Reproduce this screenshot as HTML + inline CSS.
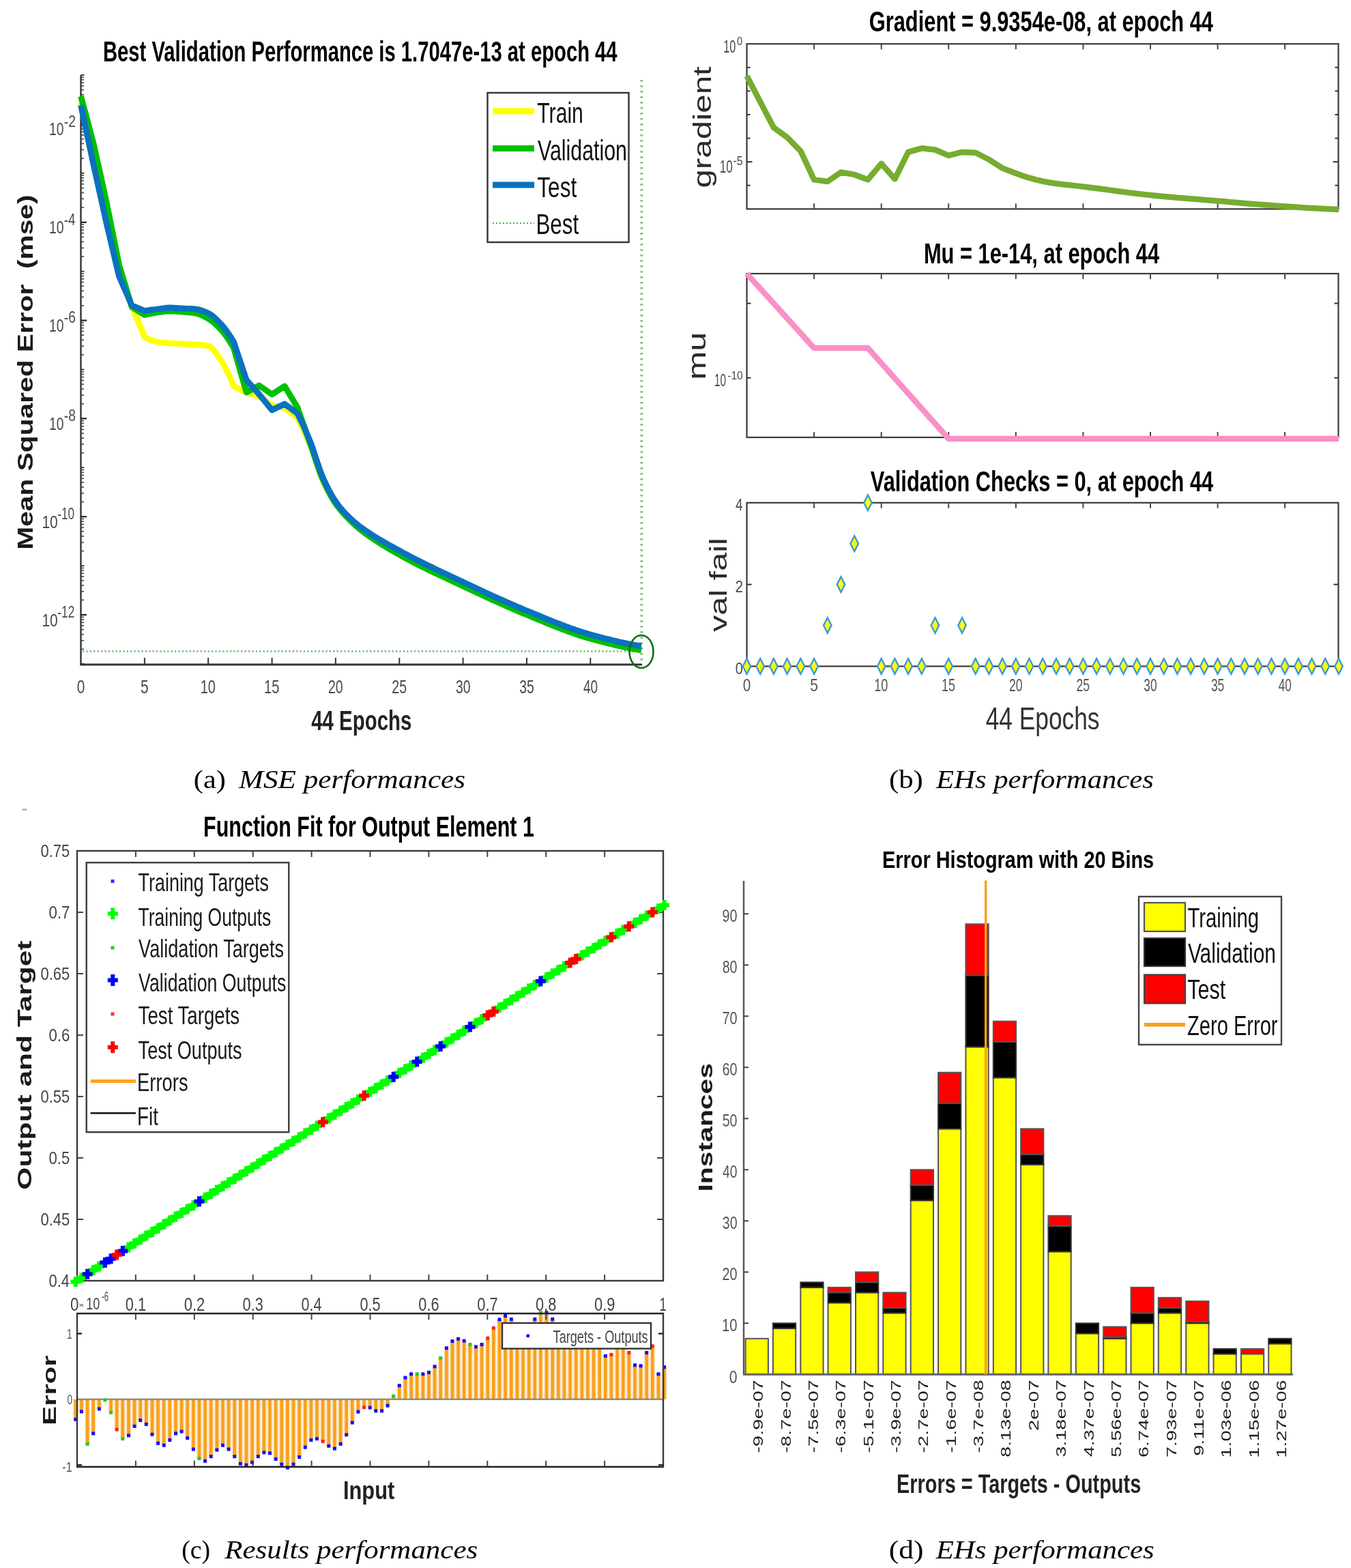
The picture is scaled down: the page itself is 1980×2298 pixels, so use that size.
<!DOCTYPE html>
<html><head><meta charset="utf-8"><title>Training performance figures</title>
<style>
html,body{margin:0;padding:0;background:#fff;}
body{width:1980px;height:2298px;overflow:hidden;}
svg{display:block;}
text{white-space:pre;}
</style></head>
<body>
<svg width="1980" height="2298" viewBox="0 0 1980 2298">
<rect width="1980" height="2298" fill="#fff"/>
<text x="151.0" y="90.4" font-family="'Liberation Sans', Arial, Helvetica, sans-serif" font-size="42.18" font-weight="bold" font-style="normal" fill="#000" textLength="753.6" lengthAdjust="spacingAndGlyphs">Best Validation Performance is 1.7047e-13 at epoch 44</text>
<line x1="118.5" y1="110.0" x2="118.5" y2="974.0" stroke="#333" stroke-width="2.4" />
<line x1="117.3" y1="974.0" x2="941.0" y2="974.0" stroke="#333" stroke-width="2.8" />
<line x1="118.5" y1="973.0" x2="123.5" y2="973.0" stroke="#333" stroke-width="1.8" />
<line x1="118.5" y1="951.4" x2="123.0" y2="951.4" stroke="#444" stroke-width="1.6" />
<line x1="118.5" y1="938.7" x2="123.0" y2="938.7" stroke="#444" stroke-width="1.6" />
<line x1="118.5" y1="929.7" x2="123.0" y2="929.7" stroke="#444" stroke-width="1.6" />
<line x1="118.5" y1="922.7" x2="123.0" y2="922.7" stroke="#444" stroke-width="1.6" />
<line x1="118.5" y1="917.0" x2="123.0" y2="917.0" stroke="#444" stroke-width="1.6" />
<line x1="118.5" y1="912.2" x2="123.0" y2="912.2" stroke="#444" stroke-width="1.6" />
<line x1="118.5" y1="908.1" x2="123.0" y2="908.1" stroke="#444" stroke-width="1.6" />
<line x1="118.5" y1="904.4" x2="123.0" y2="904.4" stroke="#444" stroke-width="1.6" />
<line x1="118.5" y1="901.1" x2="127.0" y2="901.1" stroke="#222" stroke-width="2.2" />
<line x1="118.5" y1="879.4" x2="123.0" y2="879.4" stroke="#444" stroke-width="1.6" />
<line x1="118.5" y1="866.8" x2="123.0" y2="866.8" stroke="#444" stroke-width="1.6" />
<line x1="118.5" y1="857.8" x2="123.0" y2="857.8" stroke="#444" stroke-width="1.6" />
<line x1="118.5" y1="850.8" x2="123.0" y2="850.8" stroke="#444" stroke-width="1.6" />
<line x1="118.5" y1="845.1" x2="123.0" y2="845.1" stroke="#444" stroke-width="1.6" />
<line x1="118.5" y1="840.3" x2="123.0" y2="840.3" stroke="#444" stroke-width="1.6" />
<line x1="118.5" y1="836.1" x2="123.0" y2="836.1" stroke="#444" stroke-width="1.6" />
<line x1="118.5" y1="832.5" x2="123.0" y2="832.5" stroke="#444" stroke-width="1.6" />
<line x1="118.5" y1="829.2" x2="123.5" y2="829.2" stroke="#333" stroke-width="1.8" />
<line x1="118.5" y1="807.5" x2="123.0" y2="807.5" stroke="#444" stroke-width="1.6" />
<line x1="118.5" y1="794.9" x2="123.0" y2="794.9" stroke="#444" stroke-width="1.6" />
<line x1="118.5" y1="785.9" x2="123.0" y2="785.9" stroke="#444" stroke-width="1.6" />
<line x1="118.5" y1="778.9" x2="123.0" y2="778.9" stroke="#444" stroke-width="1.6" />
<line x1="118.5" y1="773.2" x2="123.0" y2="773.2" stroke="#444" stroke-width="1.6" />
<line x1="118.5" y1="768.4" x2="123.0" y2="768.4" stroke="#444" stroke-width="1.6" />
<line x1="118.5" y1="764.2" x2="123.0" y2="764.2" stroke="#444" stroke-width="1.6" />
<line x1="118.5" y1="760.5" x2="123.0" y2="760.5" stroke="#444" stroke-width="1.6" />
<line x1="118.5" y1="757.2" x2="127.0" y2="757.2" stroke="#222" stroke-width="2.2" />
<line x1="118.5" y1="735.6" x2="123.0" y2="735.6" stroke="#444" stroke-width="1.6" />
<line x1="118.5" y1="722.9" x2="123.0" y2="722.9" stroke="#444" stroke-width="1.6" />
<line x1="118.5" y1="714.0" x2="123.0" y2="714.0" stroke="#444" stroke-width="1.6" />
<line x1="118.5" y1="707.0" x2="123.0" y2="707.0" stroke="#444" stroke-width="1.6" />
<line x1="118.5" y1="701.3" x2="123.0" y2="701.3" stroke="#444" stroke-width="1.6" />
<line x1="118.5" y1="696.5" x2="123.0" y2="696.5" stroke="#444" stroke-width="1.6" />
<line x1="118.5" y1="692.3" x2="123.0" y2="692.3" stroke="#444" stroke-width="1.6" />
<line x1="118.5" y1="688.6" x2="123.0" y2="688.6" stroke="#444" stroke-width="1.6" />
<line x1="118.5" y1="685.3" x2="123.5" y2="685.3" stroke="#333" stroke-width="1.8" />
<line x1="118.5" y1="663.7" x2="123.0" y2="663.7" stroke="#444" stroke-width="1.6" />
<line x1="118.5" y1="651.0" x2="123.0" y2="651.0" stroke="#444" stroke-width="1.6" />
<line x1="118.5" y1="642.0" x2="123.0" y2="642.0" stroke="#444" stroke-width="1.6" />
<line x1="118.5" y1="635.1" x2="123.0" y2="635.1" stroke="#444" stroke-width="1.6" />
<line x1="118.5" y1="629.4" x2="123.0" y2="629.4" stroke="#444" stroke-width="1.6" />
<line x1="118.5" y1="624.6" x2="123.0" y2="624.6" stroke="#444" stroke-width="1.6" />
<line x1="118.5" y1="620.4" x2="123.0" y2="620.4" stroke="#444" stroke-width="1.6" />
<line x1="118.5" y1="616.7" x2="123.0" y2="616.7" stroke="#444" stroke-width="1.6" />
<line x1="118.5" y1="613.4" x2="127.0" y2="613.4" stroke="#222" stroke-width="2.2" />
<line x1="118.5" y1="591.8" x2="123.0" y2="591.8" stroke="#444" stroke-width="1.6" />
<line x1="118.5" y1="579.1" x2="123.0" y2="579.1" stroke="#444" stroke-width="1.6" />
<line x1="118.5" y1="570.1" x2="123.0" y2="570.1" stroke="#444" stroke-width="1.6" />
<line x1="118.5" y1="563.1" x2="123.0" y2="563.1" stroke="#444" stroke-width="1.6" />
<line x1="118.5" y1="557.5" x2="123.0" y2="557.5" stroke="#444" stroke-width="1.6" />
<line x1="118.5" y1="552.6" x2="123.0" y2="552.6" stroke="#444" stroke-width="1.6" />
<line x1="118.5" y1="548.5" x2="123.0" y2="548.5" stroke="#444" stroke-width="1.6" />
<line x1="118.5" y1="544.8" x2="123.0" y2="544.8" stroke="#444" stroke-width="1.6" />
<line x1="118.5" y1="541.5" x2="123.5" y2="541.5" stroke="#333" stroke-width="1.8" />
<line x1="118.5" y1="519.9" x2="123.0" y2="519.9" stroke="#444" stroke-width="1.6" />
<line x1="118.5" y1="507.2" x2="123.0" y2="507.2" stroke="#444" stroke-width="1.6" />
<line x1="118.5" y1="498.2" x2="123.0" y2="498.2" stroke="#444" stroke-width="1.6" />
<line x1="118.5" y1="491.2" x2="123.0" y2="491.2" stroke="#444" stroke-width="1.6" />
<line x1="118.5" y1="485.5" x2="123.0" y2="485.5" stroke="#444" stroke-width="1.6" />
<line x1="118.5" y1="480.7" x2="123.0" y2="480.7" stroke="#444" stroke-width="1.6" />
<line x1="118.5" y1="476.6" x2="123.0" y2="476.6" stroke="#444" stroke-width="1.6" />
<line x1="118.5" y1="472.9" x2="123.0" y2="472.9" stroke="#444" stroke-width="1.6" />
<line x1="118.5" y1="469.6" x2="127.0" y2="469.6" stroke="#222" stroke-width="2.2" />
<line x1="118.5" y1="447.9" x2="123.0" y2="447.9" stroke="#444" stroke-width="1.6" />
<line x1="118.5" y1="435.3" x2="123.0" y2="435.3" stroke="#444" stroke-width="1.6" />
<line x1="118.5" y1="426.3" x2="123.0" y2="426.3" stroke="#444" stroke-width="1.6" />
<line x1="118.5" y1="419.3" x2="123.0" y2="419.3" stroke="#444" stroke-width="1.6" />
<line x1="118.5" y1="413.6" x2="123.0" y2="413.6" stroke="#444" stroke-width="1.6" />
<line x1="118.5" y1="408.8" x2="123.0" y2="408.8" stroke="#444" stroke-width="1.6" />
<line x1="118.5" y1="404.6" x2="123.0" y2="404.6" stroke="#444" stroke-width="1.6" />
<line x1="118.5" y1="401.0" x2="123.0" y2="401.0" stroke="#444" stroke-width="1.6" />
<line x1="118.5" y1="397.7" x2="123.5" y2="397.7" stroke="#333" stroke-width="1.8" />
<line x1="118.5" y1="376.0" x2="123.0" y2="376.0" stroke="#444" stroke-width="1.6" />
<line x1="118.5" y1="363.4" x2="123.0" y2="363.4" stroke="#444" stroke-width="1.6" />
<line x1="118.5" y1="354.4" x2="123.0" y2="354.4" stroke="#444" stroke-width="1.6" />
<line x1="118.5" y1="347.4" x2="123.0" y2="347.4" stroke="#444" stroke-width="1.6" />
<line x1="118.5" y1="341.7" x2="123.0" y2="341.7" stroke="#444" stroke-width="1.6" />
<line x1="118.5" y1="336.9" x2="123.0" y2="336.9" stroke="#444" stroke-width="1.6" />
<line x1="118.5" y1="332.7" x2="123.0" y2="332.7" stroke="#444" stroke-width="1.6" />
<line x1="118.5" y1="329.0" x2="123.0" y2="329.0" stroke="#444" stroke-width="1.6" />
<line x1="118.5" y1="325.8" x2="127.0" y2="325.8" stroke="#222" stroke-width="2.2" />
<line x1="118.5" y1="304.1" x2="123.0" y2="304.1" stroke="#444" stroke-width="1.6" />
<line x1="118.5" y1="291.4" x2="123.0" y2="291.4" stroke="#444" stroke-width="1.6" />
<line x1="118.5" y1="282.5" x2="123.0" y2="282.5" stroke="#444" stroke-width="1.6" />
<line x1="118.5" y1="275.5" x2="123.0" y2="275.5" stroke="#444" stroke-width="1.6" />
<line x1="118.5" y1="269.8" x2="123.0" y2="269.8" stroke="#444" stroke-width="1.6" />
<line x1="118.5" y1="265.0" x2="123.0" y2="265.0" stroke="#444" stroke-width="1.6" />
<line x1="118.5" y1="260.8" x2="123.0" y2="260.8" stroke="#444" stroke-width="1.6" />
<line x1="118.5" y1="257.1" x2="123.0" y2="257.1" stroke="#444" stroke-width="1.6" />
<line x1="118.5" y1="253.8" x2="123.5" y2="253.8" stroke="#333" stroke-width="1.8" />
<line x1="118.5" y1="232.2" x2="123.0" y2="232.2" stroke="#444" stroke-width="1.6" />
<line x1="118.5" y1="219.5" x2="123.0" y2="219.5" stroke="#444" stroke-width="1.6" />
<line x1="118.5" y1="210.5" x2="123.0" y2="210.5" stroke="#444" stroke-width="1.6" />
<line x1="118.5" y1="203.6" x2="123.0" y2="203.6" stroke="#444" stroke-width="1.6" />
<line x1="118.5" y1="197.9" x2="123.0" y2="197.9" stroke="#444" stroke-width="1.6" />
<line x1="118.5" y1="193.1" x2="123.0" y2="193.1" stroke="#444" stroke-width="1.6" />
<line x1="118.5" y1="188.9" x2="123.0" y2="188.9" stroke="#444" stroke-width="1.6" />
<line x1="118.5" y1="185.2" x2="123.0" y2="185.2" stroke="#444" stroke-width="1.6" />
<line x1="118.5" y1="181.9" x2="127.0" y2="181.9" stroke="#222" stroke-width="2.2" />
<line x1="118.5" y1="160.3" x2="123.0" y2="160.3" stroke="#444" stroke-width="1.6" />
<line x1="118.5" y1="147.6" x2="123.0" y2="147.6" stroke="#444" stroke-width="1.6" />
<line x1="118.5" y1="138.6" x2="123.0" y2="138.6" stroke="#444" stroke-width="1.6" />
<line x1="118.5" y1="131.6" x2="123.0" y2="131.6" stroke="#444" stroke-width="1.6" />
<line x1="118.5" y1="126.0" x2="123.0" y2="126.0" stroke="#444" stroke-width="1.6" />
<line x1="118.5" y1="121.1" x2="123.0" y2="121.1" stroke="#444" stroke-width="1.6" />
<line x1="118.5" y1="117.0" x2="123.0" y2="117.0" stroke="#444" stroke-width="1.6" />
<line x1="118.5" y1="113.3" x2="123.0" y2="113.3" stroke="#444" stroke-width="1.6" />
<line x1="118.5" y1="110.0" x2="123.5" y2="110.0" stroke="#333" stroke-width="1.8" />
<line x1="211.9" y1="973.0" x2="211.9" y2="964.0" stroke="#333" stroke-width="2" />
<line x1="305.2" y1="973.0" x2="305.2" y2="964.0" stroke="#333" stroke-width="2" />
<line x1="398.6" y1="973.0" x2="398.6" y2="964.0" stroke="#333" stroke-width="2" />
<line x1="491.9" y1="973.0" x2="491.9" y2="964.0" stroke="#333" stroke-width="2" />
<line x1="585.3" y1="973.0" x2="585.3" y2="964.0" stroke="#333" stroke-width="2" />
<line x1="678.6" y1="973.0" x2="678.6" y2="964.0" stroke="#333" stroke-width="2" />
<line x1="772.0" y1="973.0" x2="772.0" y2="964.0" stroke="#333" stroke-width="2" />
<line x1="865.3" y1="973.0" x2="865.3" y2="964.0" stroke="#333" stroke-width="2" />
<text x="112.7" y="1016.4" font-family="'Liberation Sans', Arial, Helvetica, sans-serif" font-size="27.37" font-weight="normal" font-style="normal" fill="#4a4a4a" textLength="11.6" lengthAdjust="spacingAndGlyphs">0</text>
<text x="206.0" y="1016.4" font-family="'Liberation Sans', Arial, Helvetica, sans-serif" font-size="27.37" font-weight="normal" font-style="normal" fill="#4a4a4a" textLength="11.7" lengthAdjust="spacingAndGlyphs">5</text>
<text x="293.7" y="1016.4" font-family="'Liberation Sans', Arial, Helvetica, sans-serif" font-size="27.37" font-weight="normal" font-style="normal" fill="#4a4a4a" textLength="22.3" lengthAdjust="spacingAndGlyphs">10</text>
<text x="387.0" y="1016.4" font-family="'Liberation Sans', Arial, Helvetica, sans-serif" font-size="27.37" font-weight="normal" font-style="normal" fill="#4a4a4a" textLength="22.4" lengthAdjust="spacingAndGlyphs">15</text>
<text x="480.9" y="1016.4" font-family="'Liberation Sans', Arial, Helvetica, sans-serif" font-size="27.37" font-weight="normal" font-style="normal" fill="#4a4a4a" textLength="21.7" lengthAdjust="spacingAndGlyphs">20</text>
<text x="574.3" y="1016.4" font-family="'Liberation Sans', Arial, Helvetica, sans-serif" font-size="27.37" font-weight="normal" font-style="normal" fill="#4a4a4a" textLength="21.8" lengthAdjust="spacingAndGlyphs">25</text>
<text x="667.9" y="1016.4" font-family="'Liberation Sans', Arial, Helvetica, sans-serif" font-size="27.37" font-weight="normal" font-style="normal" fill="#4a4a4a" textLength="21.5" lengthAdjust="spacingAndGlyphs">30</text>
<text x="761.2" y="1016.4" font-family="'Liberation Sans', Arial, Helvetica, sans-serif" font-size="27.37" font-weight="normal" font-style="normal" fill="#4a4a4a" textLength="21.6" lengthAdjust="spacingAndGlyphs">35</text>
<text x="854.9" y="1016.4" font-family="'Liberation Sans', Arial, Helvetica, sans-serif" font-size="27.37" font-weight="normal" font-style="normal" fill="#4a4a4a" textLength="21.2" lengthAdjust="spacingAndGlyphs">40</text>
<text x="72.0" y="198.4" font-family="'Liberation Sans', Arial, Helvetica, sans-serif" font-size="26.54" font-weight="normal" font-style="normal" fill="#4a4a4a" textLength="21.5" lengthAdjust="spacingAndGlyphs">10</text>
<text x="93.7" y="185.7" font-family="'Liberation Sans', Arial, Helvetica, sans-serif" font-size="23.04" font-weight="normal" font-style="normal" fill="#4a4a4a" textLength="17.2" lengthAdjust="spacingAndGlyphs">-2</text>
<text x="72.0" y="342.2" font-family="'Liberation Sans', Arial, Helvetica, sans-serif" font-size="26.54" font-weight="normal" font-style="normal" fill="#4a4a4a" textLength="21.5" lengthAdjust="spacingAndGlyphs">10</text>
<text x="93.8" y="329.6" font-family="'Liberation Sans', Arial, Helvetica, sans-serif" font-size="23.04" font-weight="normal" font-style="normal" fill="#4a4a4a" textLength="16.8" lengthAdjust="spacingAndGlyphs">-4</text>
<text x="72.0" y="486.1" font-family="'Liberation Sans', Arial, Helvetica, sans-serif" font-size="26.54" font-weight="normal" font-style="normal" fill="#4a4a4a" textLength="21.5" lengthAdjust="spacingAndGlyphs">10</text>
<text x="93.8" y="473.4" font-family="'Liberation Sans', Arial, Helvetica, sans-serif" font-size="23.04" font-weight="normal" font-style="normal" fill="#4a4a4a" textLength="17.1" lengthAdjust="spacingAndGlyphs">-6</text>
<text x="72.0" y="629.9" font-family="'Liberation Sans', Arial, Helvetica, sans-serif" font-size="26.54" font-weight="normal" font-style="normal" fill="#4a4a4a" textLength="21.5" lengthAdjust="spacingAndGlyphs">10</text>
<text x="93.8" y="617.2" font-family="'Liberation Sans', Arial, Helvetica, sans-serif" font-size="23.04" font-weight="normal" font-style="normal" fill="#4a4a4a" textLength="17.1" lengthAdjust="spacingAndGlyphs">-8</text>
<text x="61.4" y="773.8" font-family="'Liberation Sans', Arial, Helvetica, sans-serif" font-size="26.54" font-weight="normal" font-style="normal" fill="#4a4a4a" textLength="23.4" lengthAdjust="spacingAndGlyphs">10</text>
<text x="84.2" y="761.0" font-family="'Liberation Sans', Arial, Helvetica, sans-serif" font-size="23.04" font-weight="normal" font-style="normal" fill="#4a4a4a" textLength="24.9" lengthAdjust="spacingAndGlyphs">-10</text>
<text x="61.4" y="917.6" font-family="'Liberation Sans', Arial, Helvetica, sans-serif" font-size="26.54" font-weight="normal" font-style="normal" fill="#4a4a4a" textLength="23.4" lengthAdjust="spacingAndGlyphs">10</text>
<text x="84.2" y="904.9" font-family="'Liberation Sans', Arial, Helvetica, sans-serif" font-size="23.04" font-weight="normal" font-style="normal" fill="#4a4a4a" textLength="25.1" lengthAdjust="spacingAndGlyphs">-12</text>
<text transform="translate(47.8,803.0) rotate(-90)" x="-2.7" y="0" font-family="'Liberation Sans', Arial, Helvetica, sans-serif" font-size="30.45" font-weight="bold" fill="#1a1a1a" textLength="520.2" lengthAdjust="spacingAndGlyphs">Mean Squared Error  (mse)</text>
<text x="456.2" y="1069.6" font-family="'Liberation Sans', Arial, Helvetica, sans-serif" font-size="40.36" font-weight="bold" font-style="normal" fill="#222" textLength="147.2" lengthAdjust="spacingAndGlyphs">44 Epochs</text>
<line x1="121.0" y1="954.5" x2="938.0" y2="954.5" stroke="#6cb86c" stroke-width="2.7" stroke-dasharray="2.2,3.2"/>
<line x1="940.3" y1="117.0" x2="940.3" y2="973.0" stroke="#8cc48c" stroke-width="4" stroke-dasharray="2.7,5.3"/>
<polyline points="118.5,150.0 137.2,238.0 155.8,321.0 174.5,402.0 193.2,448.0 211.9,494.0 215.6,495.8 219.3,497.5 223.1,499.0 226.8,500.2 230.5,501.0 234.3,501.6 238.0,502.0 241.7,502.4 245.5,502.7 249.2,503.0 252.9,503.2 256.7,503.4 260.4,503.6 264.1,503.8 267.9,504.0 271.6,504.2 275.3,504.4 279.1,504.6 282.8,504.8 286.5,505.0 290.3,505.3 294.0,505.5 297.7,505.9 301.5,506.4 305.2,507.0 308.9,508.8 312.7,512.3 316.4,517.1 320.1,522.5 323.9,528.0 327.6,533.9 331.3,540.8 335.1,548.5 338.8,557.0 342.5,566.0 361.2,575.0 379.9,581.0 398.6,594.0 417.2,598.0 435.9,612.0 439.6,619.1 443.4,626.6 447.1,634.7 450.8,643.1 454.6,652.0 458.3,661.9 462.0,672.9 465.8,684.1 469.5,694.8 473.2,704.0 477.0,711.9 480.7,719.3 484.4,726.1 488.2,732.4 491.9,738.0 495.6,743.1 499.4,747.8 503.1,752.2 506.8,756.2 510.6,760.0 514.3,763.6 518.0,767.0 521.8,770.1 525.5,773.1 529.2,776.0 533.0,778.8 536.7,781.5 540.5,784.1 544.2,786.7 547.9,789.2 551.7,791.7 555.4,794.1 559.1,796.5 562.9,798.8 566.6,801.1 570.3,803.4 574.1,805.6 577.8,807.7 581.5,809.9 585.3,812.0 589.0,814.1 592.7,816.1 596.5,818.2 600.2,820.2 603.9,822.1 607.7,824.1 611.4,826.0 615.1,827.9 618.9,829.7 622.6,831.6 626.3,833.4 630.1,835.2 633.8,837.0 637.5,838.8 641.3,840.5 645.0,842.3 648.7,844.1 652.5,845.8 656.2,847.5 659.9,849.3 663.7,851.0 667.4,852.8 671.1,854.5 674.9,856.2 678.6,858.0 682.3,859.8 686.1,861.5 689.8,863.3 693.5,865.0 697.3,866.8 701.0,868.5 704.8,870.3 708.5,872.0 712.2,873.7 716.0,875.4 719.7,877.2 723.4,878.9 727.2,880.6 730.9,882.3 734.6,883.9 738.4,885.6 742.1,887.3 745.8,888.9 749.6,890.5 753.3,892.1 757.0,893.8 760.8,895.3 764.5,896.9 768.2,898.5 772.0,900.0 775.7,901.5 779.4,903.1 783.2,904.6 786.9,906.1 790.6,907.7 794.4,909.2 798.1,910.8 801.8,912.3 805.6,913.8 809.3,915.3 813.0,916.8 816.8,918.3 820.5,919.7 824.2,921.2 828.0,922.6 831.7,924.0 835.4,925.3 839.2,926.7 842.9,928.0 846.6,929.2 850.4,930.5 854.1,931.7 857.8,932.8 861.6,933.9 865.3,935.0 869.1,936.0 872.8,937.1 876.5,938.1 880.3,939.1 884.0,940.0 887.7,941.0 891.5,941.9 895.2,942.8 898.9,943.7 902.7,944.6 906.4,945.5 910.1,946.3 913.9,947.1 917.6,947.9 921.3,948.6 925.1,949.4 928.8,950.1 932.5,950.7 936.3,951.4 940.0,952.0" fill="none" stroke="#ffff00" stroke-width="8.8" stroke-linejoin="round" stroke-linecap="butt" />
<polyline points="118.5,141.0 137.2,211.0 155.8,295.0 174.5,388.0 193.2,450.0 211.9,461.5 215.6,460.7 219.3,459.9 223.1,459.2 226.8,458.6 230.5,458.0 234.3,457.5 238.0,456.9 241.7,456.5 245.5,456.1 249.2,456.0 252.9,456.1 256.7,456.2 260.4,456.5 264.1,456.7 267.9,457.0 271.6,457.3 275.3,457.6 279.1,458.0 282.8,458.4 286.5,459.0 290.3,459.9 294.0,461.3 297.7,463.0 301.5,464.9 305.2,467.0 308.9,469.4 312.7,472.2 316.4,475.5 320.1,479.1 323.9,483.0 327.6,487.3 331.3,492.3 335.1,497.7 338.8,503.7 342.5,510.0 361.2,575.0 379.9,565.0 398.6,578.0 417.2,566.0 435.9,597.0 439.6,607.6 443.4,618.2 447.1,628.8 450.8,639.4 454.6,650.0 458.3,660.9 462.0,672.2 465.8,683.4 469.5,693.8 473.2,703.0 477.0,711.2 480.7,718.8 484.4,725.8 488.2,732.3 491.9,738.0 495.6,743.1 499.4,747.8 503.1,752.1 506.8,756.1 510.6,760.0 514.3,763.8 518.0,767.4 521.8,770.8 525.5,774.0 529.2,777.0 533.0,779.9 536.7,782.6 540.5,785.3 544.2,787.9 547.9,790.4 551.7,792.9 555.4,795.3 559.1,797.7 562.9,800.0 566.6,802.2 570.3,804.4 574.1,806.6 577.8,808.8 581.5,810.9 585.3,813.0 589.0,815.1 592.7,817.1 596.5,819.2 600.2,821.2 603.9,823.1 607.7,825.1 611.4,827.0 615.1,828.9 618.9,830.7 622.6,832.6 626.3,834.4 630.1,836.2 633.8,838.0 637.5,839.8 641.3,841.5 645.0,843.3 648.7,845.1 652.5,846.8 656.2,848.5 659.9,850.3 663.7,852.0 667.4,853.8 671.1,855.5 674.9,857.2 678.6,859.0 682.3,860.8 686.1,862.5 689.8,864.3 693.5,866.0 697.3,867.8 701.0,869.5 704.8,871.3 708.5,873.0 712.2,874.7 716.0,876.4 719.7,878.2 723.4,879.9 727.2,881.6 730.9,883.3 734.6,884.9 738.4,886.6 742.1,888.3 745.8,889.9 749.6,891.5 753.3,893.1 757.0,894.8 760.8,896.3 764.5,897.9 768.2,899.5 772.0,901.0 775.7,902.5 779.4,904.1 783.2,905.6 786.9,907.1 790.6,908.7 794.4,910.2 798.1,911.8 801.8,913.3 805.6,914.8 809.3,916.3 813.0,917.8 816.8,919.3 820.5,920.7 824.2,922.2 828.0,923.6 831.7,925.0 835.4,926.3 839.2,927.7 842.9,929.0 846.6,930.2 850.4,931.5 854.1,932.7 857.8,933.8 861.6,934.9 865.3,936.0 869.1,937.0 872.8,938.1 876.5,939.1 880.3,940.1 884.0,941.0 887.7,942.0 891.5,942.9 895.2,943.8 898.9,944.7 902.7,945.6 906.4,946.5 910.1,947.3 913.9,948.1 917.6,948.9 921.3,949.6 925.1,950.4 928.8,951.1 932.5,951.7 936.3,952.4 940.0,953.0" fill="none" stroke="#00c000" stroke-width="8.8" stroke-linejoin="round" stroke-linecap="butt" />
<polyline points="118.5,154.0 137.2,242.0 155.8,326.0 174.5,405.0 193.2,447.6 211.9,455.5 215.6,455.0 219.3,454.4 223.1,453.9 226.8,453.5 230.5,453.0 234.3,452.5 238.0,452.0 241.7,451.5 245.5,451.1 249.2,451.0 252.9,451.1 256.7,451.3 260.4,451.5 264.1,451.8 267.9,452.0 271.6,452.2 275.3,452.3 279.1,452.5 282.8,452.7 286.5,453.0 290.3,453.6 294.0,454.5 297.7,455.8 301.5,457.3 305.2,459.0 308.9,461.1 312.7,464.0 316.4,467.4 320.1,471.1 323.9,475.0 327.6,479.2 331.3,484.0 335.1,489.3 338.8,495.0 342.5,501.0 361.2,557.0 379.9,578.0 398.6,601.0 417.2,592.0 435.9,606.0 439.6,613.3 443.4,621.0 447.1,629.3 450.8,637.9 454.6,647.0 458.3,657.1 462.0,668.3 465.8,679.7 469.5,690.6 473.2,700.0 477.0,708.2 480.7,715.8 484.4,722.8 488.2,729.3 491.9,735.0 495.6,740.2 499.4,744.9 503.1,749.2 506.8,753.2 510.6,757.0 514.3,760.6 518.0,764.0 521.8,767.2 525.5,770.2 529.2,773.0 533.0,775.7 536.7,778.3 540.5,780.8 544.2,783.2 547.9,785.6 551.7,787.9 555.4,790.2 559.1,792.4 562.9,794.5 566.6,796.7 570.3,798.8 574.1,800.8 577.8,802.9 581.5,805.0 585.3,807.0 589.0,809.0 592.7,811.0 596.5,813.0 600.2,815.0 603.9,816.9 607.7,818.9 611.4,820.8 615.1,822.6 618.9,824.5 622.6,826.4 626.3,828.2 630.1,830.0 633.8,831.8 637.5,833.6 641.3,835.4 645.0,837.2 648.7,839.0 652.5,840.7 656.2,842.5 659.9,844.2 663.7,846.0 667.4,847.7 671.1,849.5 674.9,851.2 678.6,853.0 682.3,854.8 686.1,856.5 689.8,858.3 693.5,860.0 697.3,861.8 701.0,863.5 704.8,865.3 708.5,867.0 712.2,868.7 716.0,870.4 719.7,872.2 723.4,873.9 727.2,875.6 730.9,877.3 734.6,878.9 738.4,880.6 742.1,882.3 745.8,883.9 749.6,885.5 753.3,887.1 757.0,888.8 760.8,890.3 764.5,891.9 768.2,893.5 772.0,895.0 775.7,896.5 779.4,898.1 783.2,899.6 786.9,901.1 790.6,902.7 794.4,904.2 798.1,905.8 801.8,907.3 805.6,908.8 809.3,910.3 813.0,911.8 816.8,913.3 820.5,914.7 824.2,916.2 828.0,917.6 831.7,919.0 835.4,920.3 839.2,921.7 842.9,923.0 846.6,924.2 850.4,925.5 854.1,926.7 857.8,927.8 861.6,928.9 865.3,930.0 869.1,931.0 872.8,932.1 876.5,933.1 880.3,934.1 884.0,935.0 887.7,936.0 891.5,936.9 895.2,937.8 898.9,938.7 902.7,939.6 906.4,940.5 910.1,941.3 913.9,942.1 917.6,942.9 921.3,943.6 925.1,944.4 928.8,945.1 932.5,945.7 936.3,946.4 940.0,947.0" fill="none" stroke="#0a72be" stroke-width="8.8" stroke-linejoin="round" stroke-linecap="butt" />
<ellipse cx="940" cy="955" rx="17.5" ry="24" fill="none" stroke="#0b6e12" stroke-width="2.6"/>
<rect x="714.5" y="136.0" width="207.0" height="219.0" fill="#fff" stroke="#333" stroke-width="2.4" />
<line x1="722.0" y1="163.0" x2="783.0" y2="163.0" stroke="#ffff00" stroke-width="9" />
<line x1="722.0" y1="217.5" x2="783.0" y2="217.5" stroke="#00c000" stroke-width="9" />
<line x1="722.0" y1="271.0" x2="783.0" y2="271.0" stroke="#0a72be" stroke-width="9" />
<line x1="722.0" y1="327.0" x2="783.0" y2="327.0" stroke="#4caf50" stroke-width="2" stroke-dasharray="2,3"/>
<text x="787.3" y="180.0" font-family="'Liberation Sans', Arial, Helvetica, sans-serif" font-size="41.90" font-weight="normal" font-style="normal" fill="#111" textLength="67.6" lengthAdjust="spacingAndGlyphs">Train</text>
<text x="787.9" y="234.5" font-family="'Liberation Sans', Arial, Helvetica, sans-serif" font-size="41.90" font-weight="normal" font-style="normal" fill="#111" textLength="131.1" lengthAdjust="spacingAndGlyphs">Validation</text>
<text x="787.3" y="289.0" font-family="'Liberation Sans', Arial, Helvetica, sans-serif" font-size="41.90" font-weight="normal" font-style="normal" fill="#111" textLength="57.9" lengthAdjust="spacingAndGlyphs">Test</text>
<text x="785.4" y="343.0" font-family="'Liberation Sans', Arial, Helvetica, sans-serif" font-size="41.90" font-weight="normal" font-style="normal" fill="#111" textLength="62.8" lengthAdjust="spacingAndGlyphs">Best</text>
<text x="283.8" y="1154.6" font-family="'Liberation Serif', 'Times New Roman', serif" font-size="38.22" font-weight="normal" font-style="normal" fill="#000" textLength="47.0" lengthAdjust="spacingAndGlyphs">(a)</text>
<text x="350.0" y="1154.6" font-family="'Liberation Serif', 'Times New Roman', serif" font-size="38.22" font-weight="normal" font-style="italic" fill="#000" textLength="332.0" lengthAdjust="spacingAndGlyphs">MSE performances</text>
<text x="1273.8" y="45.5" font-family="'Liberation Sans', Arial, Helvetica, sans-serif" font-size="42.60" font-weight="bold" font-style="normal" fill="#000" textLength="504.2" lengthAdjust="spacingAndGlyphs">Gradient = 9.9354e-08, at epoch 44</text>
<rect x="1094.5" y="64.3" width="867.0" height="242.0" fill="none" stroke="#3a3a3a" stroke-width="2.2" />
<line x1="1193.1" y1="306.3" x2="1193.1" y2="298.3" stroke="#444" stroke-width="2" />
<line x1="1193.1" y1="64.3" x2="1193.1" y2="72.3" stroke="#444" stroke-width="2" />
<line x1="1291.7" y1="306.3" x2="1291.7" y2="298.3" stroke="#444" stroke-width="2" />
<line x1="1291.7" y1="64.3" x2="1291.7" y2="72.3" stroke="#444" stroke-width="2" />
<line x1="1390.2" y1="306.3" x2="1390.2" y2="298.3" stroke="#444" stroke-width="2" />
<line x1="1390.2" y1="64.3" x2="1390.2" y2="72.3" stroke="#444" stroke-width="2" />
<line x1="1488.8" y1="306.3" x2="1488.8" y2="298.3" stroke="#444" stroke-width="2" />
<line x1="1488.8" y1="64.3" x2="1488.8" y2="72.3" stroke="#444" stroke-width="2" />
<line x1="1587.4" y1="306.3" x2="1587.4" y2="298.3" stroke="#444" stroke-width="2" />
<line x1="1587.4" y1="64.3" x2="1587.4" y2="72.3" stroke="#444" stroke-width="2" />
<line x1="1686.0" y1="306.3" x2="1686.0" y2="298.3" stroke="#444" stroke-width="2" />
<line x1="1686.0" y1="64.3" x2="1686.0" y2="72.3" stroke="#444" stroke-width="2" />
<line x1="1784.6" y1="306.3" x2="1784.6" y2="298.3" stroke="#444" stroke-width="2" />
<line x1="1784.6" y1="64.3" x2="1784.6" y2="72.3" stroke="#444" stroke-width="2" />
<line x1="1883.1" y1="306.3" x2="1883.1" y2="298.3" stroke="#444" stroke-width="2" />
<line x1="1883.1" y1="64.3" x2="1883.1" y2="72.3" stroke="#444" stroke-width="2" />
<line x1="1094.5" y1="98.9" x2="1099.5" y2="98.9" stroke="#333" stroke-width="2" />
<line x1="1961.5" y1="98.9" x2="1956.5" y2="98.9" stroke="#333" stroke-width="2" />
<line x1="1094.5" y1="133.4" x2="1099.5" y2="133.4" stroke="#333" stroke-width="2" />
<line x1="1961.5" y1="133.4" x2="1956.5" y2="133.4" stroke="#333" stroke-width="2" />
<line x1="1094.5" y1="168.0" x2="1099.5" y2="168.0" stroke="#333" stroke-width="2" />
<line x1="1961.5" y1="168.0" x2="1956.5" y2="168.0" stroke="#333" stroke-width="2" />
<line x1="1094.5" y1="202.6" x2="1099.5" y2="202.6" stroke="#333" stroke-width="2" />
<line x1="1961.5" y1="202.6" x2="1956.5" y2="202.6" stroke="#333" stroke-width="2" />
<line x1="1094.5" y1="237.2" x2="1102.5" y2="237.2" stroke="#333" stroke-width="2" />
<line x1="1961.5" y1="237.2" x2="1953.5" y2="237.2" stroke="#333" stroke-width="2" />
<line x1="1094.5" y1="271.7" x2="1099.5" y2="271.7" stroke="#333" stroke-width="2" />
<line x1="1961.5" y1="271.7" x2="1956.5" y2="271.7" stroke="#333" stroke-width="2" />
<text x="1060.2" y="77.4" font-family="'Liberation Sans', Arial, Helvetica, sans-serif" font-size="25.14" font-weight="normal" font-style="normal" fill="#4a4a4a" textLength="18.1" lengthAdjust="spacingAndGlyphs">10</text>
<text x="1079.9" y="66.0" font-family="'Liberation Sans', Arial, Helvetica, sans-serif" font-size="16.76" font-weight="normal" font-style="normal" fill="#4a4a4a" textLength="8.1" lengthAdjust="spacingAndGlyphs">0</text>
<text x="1054.7" y="252.9" font-family="'Liberation Sans', Arial, Helvetica, sans-serif" font-size="25.84" font-weight="normal" font-style="normal" fill="#4a4a4a" textLength="19.0" lengthAdjust="spacingAndGlyphs">10</text>
<text x="1074.6" y="242.4" font-family="'Liberation Sans', Arial, Helvetica, sans-serif" font-size="18.16" font-weight="normal" font-style="normal" fill="#4a4a4a" textLength="14.1" lengthAdjust="spacingAndGlyphs">-5</text>
<text transform="translate(1042.3,273.5) rotate(-90)" x="-2.1" y="0" font-family="'Liberation Sans', Arial, Helvetica, sans-serif" font-size="36.59" font-weight="normal" fill="#2a2a2a" textLength="178.4" lengthAdjust="spacingAndGlyphs">gradient</text>
<polyline points="1094.5,111.3 1114.2,149.2 1133.9,187.0 1153.6,201.3 1173.4,221.4 1193.1,263.4 1212.8,266.0 1232.5,252.5 1252.2,255.9 1271.9,263.2 1291.7,239.7 1311.4,262.4 1331.1,222.9 1350.8,217.3 1370.5,219.5 1390.2,227.9 1410.0,222.9 1429.7,223.7 1449.4,233.8 1469.1,246.4 1488.8,254.0 1498.7,257.6 1508.5,260.7 1518.4,263.4 1528.2,265.7 1538.1,267.5 1548.0,269.0 1557.8,270.3 1567.7,271.3 1577.5,272.4 1587.4,273.5 1597.3,274.7 1607.1,276.0 1617.0,277.3 1626.8,278.6 1636.7,280.0 1646.5,281.3 1656.4,282.6 1666.3,283.8 1676.1,284.9 1686.0,286.0 1695.8,287.0 1705.7,287.9 1715.6,288.8 1725.4,289.7 1735.3,290.5 1745.1,291.3 1755.0,292.1 1764.8,292.9 1774.7,293.7 1784.6,294.5 1794.4,295.3 1804.3,296.2 1814.1,297.0 1824.0,297.9 1833.8,298.7 1843.7,299.5 1853.6,300.3 1863.4,301.1 1873.3,301.8 1883.1,302.5 1893.0,303.1 1902.9,303.8 1912.7,304.4 1922.6,304.9 1932.4,305.5 1942.3,306.0 1952.1,306.5 1962.0,307.0" fill="none" stroke="#77ac30" stroke-width="8.5" stroke-linejoin="round" stroke-linecap="butt" />
<text x="1353.9" y="385.5" font-family="'Liberation Sans', Arial, Helvetica, sans-serif" font-size="42.60" font-weight="bold" font-style="normal" fill="#000" textLength="345.2" lengthAdjust="spacingAndGlyphs">Mu = 1e-14, at epoch 44</text>
<rect x="1094.5" y="401.0" width="867.0" height="240.0" fill="none" stroke="#3a3a3a" stroke-width="2.2" />
<line x1="1193.1" y1="641.0" x2="1193.1" y2="633.0" stroke="#444" stroke-width="2" />
<line x1="1193.1" y1="401.0" x2="1193.1" y2="409.0" stroke="#444" stroke-width="2" />
<line x1="1291.7" y1="641.0" x2="1291.7" y2="633.0" stroke="#444" stroke-width="2" />
<line x1="1291.7" y1="401.0" x2="1291.7" y2="409.0" stroke="#444" stroke-width="2" />
<line x1="1390.2" y1="641.0" x2="1390.2" y2="633.0" stroke="#444" stroke-width="2" />
<line x1="1390.2" y1="401.0" x2="1390.2" y2="409.0" stroke="#444" stroke-width="2" />
<line x1="1488.8" y1="641.0" x2="1488.8" y2="633.0" stroke="#444" stroke-width="2" />
<line x1="1488.8" y1="401.0" x2="1488.8" y2="409.0" stroke="#444" stroke-width="2" />
<line x1="1587.4" y1="641.0" x2="1587.4" y2="633.0" stroke="#444" stroke-width="2" />
<line x1="1587.4" y1="401.0" x2="1587.4" y2="409.0" stroke="#444" stroke-width="2" />
<line x1="1686.0" y1="641.0" x2="1686.0" y2="633.0" stroke="#444" stroke-width="2" />
<line x1="1686.0" y1="401.0" x2="1686.0" y2="409.0" stroke="#444" stroke-width="2" />
<line x1="1784.6" y1="641.0" x2="1784.6" y2="633.0" stroke="#444" stroke-width="2" />
<line x1="1784.6" y1="401.0" x2="1784.6" y2="409.0" stroke="#444" stroke-width="2" />
<line x1="1883.1" y1="641.0" x2="1883.1" y2="633.0" stroke="#444" stroke-width="2" />
<line x1="1883.1" y1="401.0" x2="1883.1" y2="409.0" stroke="#444" stroke-width="2" />
<line x1="1094.5" y1="444.6" x2="1100.5" y2="444.6" stroke="#333" stroke-width="2" />
<line x1="1961.5" y1="444.6" x2="1955.5" y2="444.6" stroke="#333" stroke-width="2" />
<line x1="1094.5" y1="553.7" x2="1100.5" y2="553.7" stroke="#333" stroke-width="2" />
<line x1="1961.5" y1="553.7" x2="1955.5" y2="553.7" stroke="#333" stroke-width="2" />
<text x="1047.1" y="566.4" font-family="'Liberation Sans', Arial, Helvetica, sans-serif" font-size="25.14" font-weight="normal" font-style="normal" fill="#4a4a4a" textLength="17.0" lengthAdjust="spacingAndGlyphs">10</text>
<text x="1066.2" y="556.0" font-family="'Liberation Sans', Arial, Helvetica, sans-serif" font-size="16.76" font-weight="normal" font-style="normal" fill="#4a4a4a" textLength="22.6" lengthAdjust="spacingAndGlyphs">-10</text>
<text transform="translate(1033.8,553.5) rotate(-90)" x="-3.3" y="0" font-family="'Liberation Sans', Arial, Helvetica, sans-serif" font-size="36.59" font-weight="normal" fill="#2a2a2a" textLength="70.0" lengthAdjust="spacingAndGlyphs">mu</text>
<polyline points="1094.5,401.0 1193.1,510.1 1271.9,510.1 1390.2,643.0 1962.0,643.0" fill="none" stroke="#f990c6" stroke-width="8.5" stroke-linejoin="round" stroke-linecap="butt" />
<text x="1275.8" y="720.0" font-family="'Liberation Sans', Arial, Helvetica, sans-serif" font-size="42.60" font-weight="bold" font-style="normal" fill="#000" textLength="502.4" lengthAdjust="spacingAndGlyphs">Validation Checks = 0, at epoch 44</text>
<rect x="1094.5" y="736.8" width="867.0" height="239.7" fill="none" stroke="#3a3a3a" stroke-width="2.2" />
<line x1="1193.1" y1="976.5" x2="1193.1" y2="968.5" stroke="#444" stroke-width="2" />
<line x1="1193.1" y1="736.8" x2="1193.1" y2="744.8" stroke="#444" stroke-width="2" />
<line x1="1291.7" y1="976.5" x2="1291.7" y2="968.5" stroke="#444" stroke-width="2" />
<line x1="1291.7" y1="736.8" x2="1291.7" y2="744.8" stroke="#444" stroke-width="2" />
<line x1="1390.2" y1="976.5" x2="1390.2" y2="968.5" stroke="#444" stroke-width="2" />
<line x1="1390.2" y1="736.8" x2="1390.2" y2="744.8" stroke="#444" stroke-width="2" />
<line x1="1488.8" y1="976.5" x2="1488.8" y2="968.5" stroke="#444" stroke-width="2" />
<line x1="1488.8" y1="736.8" x2="1488.8" y2="744.8" stroke="#444" stroke-width="2" />
<line x1="1587.4" y1="976.5" x2="1587.4" y2="968.5" stroke="#444" stroke-width="2" />
<line x1="1587.4" y1="736.8" x2="1587.4" y2="744.8" stroke="#444" stroke-width="2" />
<line x1="1686.0" y1="976.5" x2="1686.0" y2="968.5" stroke="#444" stroke-width="2" />
<line x1="1686.0" y1="736.8" x2="1686.0" y2="744.8" stroke="#444" stroke-width="2" />
<line x1="1784.6" y1="976.5" x2="1784.6" y2="968.5" stroke="#444" stroke-width="2" />
<line x1="1784.6" y1="736.8" x2="1784.6" y2="744.8" stroke="#444" stroke-width="2" />
<line x1="1883.1" y1="976.5" x2="1883.1" y2="968.5" stroke="#444" stroke-width="2" />
<line x1="1883.1" y1="736.8" x2="1883.1" y2="744.8" stroke="#444" stroke-width="2" />
<line x1="1094.5" y1="856.6" x2="1101.5" y2="856.6" stroke="#333" stroke-width="2" />
<line x1="1961.5" y1="856.6" x2="1954.5" y2="856.6" stroke="#333" stroke-width="2" />
<text x="1077.7" y="987.6" font-family="'Liberation Sans', Arial, Helvetica, sans-serif" font-size="24.44" font-weight="normal" font-style="normal" fill="#4a4a4a" textLength="11.1" lengthAdjust="spacingAndGlyphs">0</text>
<text x="1077.5" y="868.0" font-family="'Liberation Sans', Arial, Helvetica, sans-serif" font-size="24.44" font-weight="normal" font-style="normal" fill="#4a4a4a" textLength="11.6" lengthAdjust="spacingAndGlyphs">2</text>
<text x="1078.1" y="747.5" font-family="'Liberation Sans', Arial, Helvetica, sans-serif" font-size="24.44" font-weight="normal" font-style="normal" fill="#4a4a4a" textLength="10.5" lengthAdjust="spacingAndGlyphs">4</text>
<text x="1088.7" y="1012.6" font-family="'Liberation Sans', Arial, Helvetica, sans-serif" font-size="25.42" font-weight="normal" font-style="normal" fill="#555" textLength="11.6" lengthAdjust="spacingAndGlyphs">0</text>
<text x="1187.2" y="1012.6" font-family="'Liberation Sans', Arial, Helvetica, sans-serif" font-size="25.42" font-weight="normal" font-style="normal" fill="#555" textLength="11.7" lengthAdjust="spacingAndGlyphs">5</text>
<text x="1281.3" y="1012.6" font-family="'Liberation Sans', Arial, Helvetica, sans-serif" font-size="25.42" font-weight="normal" font-style="normal" fill="#555" textLength="20.1" lengthAdjust="spacingAndGlyphs">10</text>
<text x="1379.9" y="1012.6" font-family="'Liberation Sans', Arial, Helvetica, sans-serif" font-size="25.42" font-weight="normal" font-style="normal" fill="#555" textLength="20.1" lengthAdjust="spacingAndGlyphs">15</text>
<text x="1478.9" y="1012.6" font-family="'Liberation Sans', Arial, Helvetica, sans-serif" font-size="25.42" font-weight="normal" font-style="normal" fill="#555" textLength="19.6" lengthAdjust="spacingAndGlyphs">20</text>
<text x="1577.5" y="1012.6" font-family="'Liberation Sans', Arial, Helvetica, sans-serif" font-size="25.42" font-weight="normal" font-style="normal" fill="#555" textLength="19.6" lengthAdjust="spacingAndGlyphs">25</text>
<text x="1676.3" y="1012.6" font-family="'Liberation Sans', Arial, Helvetica, sans-serif" font-size="25.42" font-weight="normal" font-style="normal" fill="#555" textLength="19.3" lengthAdjust="spacingAndGlyphs">30</text>
<text x="1774.9" y="1012.6" font-family="'Liberation Sans', Arial, Helvetica, sans-serif" font-size="25.42" font-weight="normal" font-style="normal" fill="#555" textLength="19.4" lengthAdjust="spacingAndGlyphs">35</text>
<text x="1873.7" y="1012.6" font-family="'Liberation Sans', Arial, Helvetica, sans-serif" font-size="25.42" font-weight="normal" font-style="normal" fill="#555" textLength="19.1" lengthAdjust="spacingAndGlyphs">40</text>
<text transform="translate(1065.4,926.0) rotate(-90)" x="-0.1" y="0" font-family="'Liberation Sans', Arial, Helvetica, sans-serif" font-size="35.34" font-weight="normal" fill="#2a2a2a" textLength="137.9" lengthAdjust="spacingAndGlyphs">val fail</text>
<text x="1444.7" y="1069.0" font-family="'Liberation Sans', Arial, Helvetica, sans-serif" font-size="45.39" font-weight="normal" font-style="normal" fill="#333" textLength="166.8" lengthAdjust="spacingAndGlyphs">44 Epochs</text>
<path d="M1094.5,965.2 L1100.3,976.5 L1094.5,987.8 L1088.7,976.5 Z" fill="#ffff00" stroke="#3a9ad9" stroke-width="2.4"/>
<path d="M1114.2,965.2 L1120.0,976.5 L1114.2,987.8 L1108.4,976.5 Z" fill="#ffff00" stroke="#3a9ad9" stroke-width="2.4"/>
<path d="M1133.9,965.2 L1139.7,976.5 L1133.9,987.8 L1128.1,976.5 Z" fill="#ffff00" stroke="#3a9ad9" stroke-width="2.4"/>
<path d="M1153.6,965.2 L1159.4,976.5 L1153.6,987.8 L1147.8,976.5 Z" fill="#ffff00" stroke="#3a9ad9" stroke-width="2.4"/>
<path d="M1173.4,965.2 L1179.2,976.5 L1173.4,987.8 L1167.6,976.5 Z" fill="#ffff00" stroke="#3a9ad9" stroke-width="2.4"/>
<path d="M1193.1,965.2 L1198.9,976.5 L1193.1,987.8 L1187.3,976.5 Z" fill="#ffff00" stroke="#3a9ad9" stroke-width="2.4"/>
<path d="M1212.8,905.3 L1218.6,916.6 L1212.8,927.9 L1207.0,916.6 Z" fill="#ffff00" stroke="#3a9ad9" stroke-width="2.4"/>
<path d="M1232.5,845.4 L1238.3,856.6 L1232.5,867.9 L1226.7,856.6 Z" fill="#ffff00" stroke="#3a9ad9" stroke-width="2.4"/>
<path d="M1252.2,785.4 L1258.0,796.7 L1252.2,808.0 L1246.4,796.7 Z" fill="#ffff00" stroke="#3a9ad9" stroke-width="2.4"/>
<path d="M1271.9,725.5 L1277.7,736.8 L1271.9,748.1 L1266.1,736.8 Z" fill="#ffff00" stroke="#3a9ad9" stroke-width="2.4"/>
<path d="M1291.7,965.2 L1297.5,976.5 L1291.7,987.8 L1285.9,976.5 Z" fill="#ffff00" stroke="#3a9ad9" stroke-width="2.4"/>
<path d="M1311.4,965.2 L1317.2,976.5 L1311.4,987.8 L1305.6,976.5 Z" fill="#ffff00" stroke="#3a9ad9" stroke-width="2.4"/>
<path d="M1331.1,965.2 L1336.9,976.5 L1331.1,987.8 L1325.3,976.5 Z" fill="#ffff00" stroke="#3a9ad9" stroke-width="2.4"/>
<path d="M1350.8,965.2 L1356.6,976.5 L1350.8,987.8 L1345.0,976.5 Z" fill="#ffff00" stroke="#3a9ad9" stroke-width="2.4"/>
<path d="M1370.5,905.3 L1376.3,916.6 L1370.5,927.9 L1364.7,916.6 Z" fill="#ffff00" stroke="#3a9ad9" stroke-width="2.4"/>
<path d="M1390.2,965.2 L1396.0,976.5 L1390.2,987.8 L1384.4,976.5 Z" fill="#ffff00" stroke="#3a9ad9" stroke-width="2.4"/>
<path d="M1410.0,905.3 L1415.8,916.6 L1410.0,927.9 L1404.2,916.6 Z" fill="#ffff00" stroke="#3a9ad9" stroke-width="2.4"/>
<path d="M1429.7,965.2 L1435.5,976.5 L1429.7,987.8 L1423.9,976.5 Z" fill="#ffff00" stroke="#3a9ad9" stroke-width="2.4"/>
<path d="M1449.4,965.2 L1455.2,976.5 L1449.4,987.8 L1443.6,976.5 Z" fill="#ffff00" stroke="#3a9ad9" stroke-width="2.4"/>
<path d="M1469.1,965.2 L1474.9,976.5 L1469.1,987.8 L1463.3,976.5 Z" fill="#ffff00" stroke="#3a9ad9" stroke-width="2.4"/>
<path d="M1488.8,965.2 L1494.6,976.5 L1488.8,987.8 L1483.0,976.5 Z" fill="#ffff00" stroke="#3a9ad9" stroke-width="2.4"/>
<path d="M1508.5,965.2 L1514.3,976.5 L1508.5,987.8 L1502.7,976.5 Z" fill="#ffff00" stroke="#3a9ad9" stroke-width="2.4"/>
<path d="M1528.2,965.2 L1534.0,976.5 L1528.2,987.8 L1522.5,976.5 Z" fill="#ffff00" stroke="#3a9ad9" stroke-width="2.4"/>
<path d="M1548.0,965.2 L1553.8,976.5 L1548.0,987.8 L1542.2,976.5 Z" fill="#ffff00" stroke="#3a9ad9" stroke-width="2.4"/>
<path d="M1567.7,965.2 L1573.5,976.5 L1567.7,987.8 L1561.9,976.5 Z" fill="#ffff00" stroke="#3a9ad9" stroke-width="2.4"/>
<path d="M1587.4,965.2 L1593.2,976.5 L1587.4,987.8 L1581.6,976.5 Z" fill="#ffff00" stroke="#3a9ad9" stroke-width="2.4"/>
<path d="M1607.1,965.2 L1612.9,976.5 L1607.1,987.8 L1601.3,976.5 Z" fill="#ffff00" stroke="#3a9ad9" stroke-width="2.4"/>
<path d="M1626.8,965.2 L1632.6,976.5 L1626.8,987.8 L1621.0,976.5 Z" fill="#ffff00" stroke="#3a9ad9" stroke-width="2.4"/>
<path d="M1646.5,965.2 L1652.3,976.5 L1646.5,987.8 L1640.7,976.5 Z" fill="#ffff00" stroke="#3a9ad9" stroke-width="2.4"/>
<path d="M1666.3,965.2 L1672.1,976.5 L1666.3,987.8 L1660.5,976.5 Z" fill="#ffff00" stroke="#3a9ad9" stroke-width="2.4"/>
<path d="M1686.0,965.2 L1691.8,976.5 L1686.0,987.8 L1680.2,976.5 Z" fill="#ffff00" stroke="#3a9ad9" stroke-width="2.4"/>
<path d="M1705.7,965.2 L1711.5,976.5 L1705.7,987.8 L1699.9,976.5 Z" fill="#ffff00" stroke="#3a9ad9" stroke-width="2.4"/>
<path d="M1725.4,965.2 L1731.2,976.5 L1725.4,987.8 L1719.6,976.5 Z" fill="#ffff00" stroke="#3a9ad9" stroke-width="2.4"/>
<path d="M1745.1,965.2 L1750.9,976.5 L1745.1,987.8 L1739.3,976.5 Z" fill="#ffff00" stroke="#3a9ad9" stroke-width="2.4"/>
<path d="M1764.8,965.2 L1770.6,976.5 L1764.8,987.8 L1759.0,976.5 Z" fill="#ffff00" stroke="#3a9ad9" stroke-width="2.4"/>
<path d="M1784.6,965.2 L1790.4,976.5 L1784.6,987.8 L1778.8,976.5 Z" fill="#ffff00" stroke="#3a9ad9" stroke-width="2.4"/>
<path d="M1804.3,965.2 L1810.1,976.5 L1804.3,987.8 L1798.5,976.5 Z" fill="#ffff00" stroke="#3a9ad9" stroke-width="2.4"/>
<path d="M1824.0,965.2 L1829.8,976.5 L1824.0,987.8 L1818.2,976.5 Z" fill="#ffff00" stroke="#3a9ad9" stroke-width="2.4"/>
<path d="M1843.7,965.2 L1849.5,976.5 L1843.7,987.8 L1837.9,976.5 Z" fill="#ffff00" stroke="#3a9ad9" stroke-width="2.4"/>
<path d="M1863.4,965.2 L1869.2,976.5 L1863.4,987.8 L1857.6,976.5 Z" fill="#ffff00" stroke="#3a9ad9" stroke-width="2.4"/>
<path d="M1883.1,965.2 L1888.9,976.5 L1883.1,987.8 L1877.3,976.5 Z" fill="#ffff00" stroke="#3a9ad9" stroke-width="2.4"/>
<path d="M1902.9,965.2 L1908.7,976.5 L1902.9,987.8 L1897.1,976.5 Z" fill="#ffff00" stroke="#3a9ad9" stroke-width="2.4"/>
<path d="M1922.6,965.2 L1928.4,976.5 L1922.6,987.8 L1916.8,976.5 Z" fill="#ffff00" stroke="#3a9ad9" stroke-width="2.4"/>
<path d="M1942.3,965.2 L1948.1,976.5 L1942.3,987.8 L1936.5,976.5 Z" fill="#ffff00" stroke="#3a9ad9" stroke-width="2.4"/>
<path d="M1962.0,965.2 L1967.8,976.5 L1962.0,987.8 L1956.2,976.5 Z" fill="#ffff00" stroke="#3a9ad9" stroke-width="2.4"/>
<text x="1302.9" y="1154.6" font-family="'Liberation Serif', 'Times New Roman', serif" font-size="38.22" font-weight="normal" font-style="normal" fill="#000" textLength="50.0" lengthAdjust="spacingAndGlyphs">(b)</text>
<text x="1372.0" y="1154.6" font-family="'Liberation Serif', 'Times New Roman', serif" font-size="38.22" font-weight="normal" font-style="italic" fill="#000" textLength="318.8" lengthAdjust="spacingAndGlyphs">EHs performances</text>
<text x="298.0" y="1226.0" font-family="'Liberation Sans', Arial, Helvetica, sans-serif" font-size="41.90" font-weight="bold" font-style="normal" fill="#000" textLength="484.9" lengthAdjust="spacingAndGlyphs">Function Fit for Output Element 1</text>
<rect x="113.0" y="1247.0" width="859.0" height="630.0" fill="none" stroke="#3a3a3a" stroke-width="2.4" />
<line x1="198.9" y1="1877.0" x2="198.9" y2="1868.0" stroke="#444" stroke-width="2" />
<line x1="198.9" y1="1247.0" x2="198.9" y2="1256.0" stroke="#444" stroke-width="2" />
<line x1="284.8" y1="1877.0" x2="284.8" y2="1868.0" stroke="#444" stroke-width="2" />
<line x1="284.8" y1="1247.0" x2="284.8" y2="1256.0" stroke="#444" stroke-width="2" />
<line x1="370.7" y1="1877.0" x2="370.7" y2="1868.0" stroke="#444" stroke-width="2" />
<line x1="370.7" y1="1247.0" x2="370.7" y2="1256.0" stroke="#444" stroke-width="2" />
<line x1="456.6" y1="1877.0" x2="456.6" y2="1868.0" stroke="#444" stroke-width="2" />
<line x1="456.6" y1="1247.0" x2="456.6" y2="1256.0" stroke="#444" stroke-width="2" />
<line x1="542.5" y1="1877.0" x2="542.5" y2="1868.0" stroke="#444" stroke-width="2" />
<line x1="542.5" y1="1247.0" x2="542.5" y2="1256.0" stroke="#444" stroke-width="2" />
<line x1="628.4" y1="1877.0" x2="628.4" y2="1868.0" stroke="#444" stroke-width="2" />
<line x1="628.4" y1="1247.0" x2="628.4" y2="1256.0" stroke="#444" stroke-width="2" />
<line x1="714.3" y1="1877.0" x2="714.3" y2="1868.0" stroke="#444" stroke-width="2" />
<line x1="714.3" y1="1247.0" x2="714.3" y2="1256.0" stroke="#444" stroke-width="2" />
<line x1="800.2" y1="1877.0" x2="800.2" y2="1868.0" stroke="#444" stroke-width="2" />
<line x1="800.2" y1="1247.0" x2="800.2" y2="1256.0" stroke="#444" stroke-width="2" />
<line x1="886.1" y1="1877.0" x2="886.1" y2="1868.0" stroke="#444" stroke-width="2" />
<line x1="886.1" y1="1247.0" x2="886.1" y2="1256.0" stroke="#444" stroke-width="2" />
<line x1="113.0" y1="1787.0" x2="122.0" y2="1787.0" stroke="#444" stroke-width="2" />
<line x1="972.0" y1="1787.0" x2="963.0" y2="1787.0" stroke="#444" stroke-width="2" />
<line x1="113.0" y1="1697.0" x2="122.0" y2="1697.0" stroke="#444" stroke-width="2" />
<line x1="972.0" y1="1697.0" x2="963.0" y2="1697.0" stroke="#444" stroke-width="2" />
<line x1="113.0" y1="1607.0" x2="122.0" y2="1607.0" stroke="#444" stroke-width="2" />
<line x1="972.0" y1="1607.0" x2="963.0" y2="1607.0" stroke="#444" stroke-width="2" />
<line x1="113.0" y1="1517.0" x2="122.0" y2="1517.0" stroke="#444" stroke-width="2" />
<line x1="972.0" y1="1517.0" x2="963.0" y2="1517.0" stroke="#444" stroke-width="2" />
<line x1="113.0" y1="1427.0" x2="122.0" y2="1427.0" stroke="#444" stroke-width="2" />
<line x1="972.0" y1="1427.0" x2="963.0" y2="1427.0" stroke="#444" stroke-width="2" />
<line x1="113.0" y1="1337.0" x2="122.0" y2="1337.0" stroke="#444" stroke-width="2" />
<line x1="972.0" y1="1337.0" x2="963.0" y2="1337.0" stroke="#444" stroke-width="2" />
<text x="71.5" y="1886.0" font-family="'Liberation Sans', Arial, Helvetica, sans-serif" font-size="25.14" font-weight="normal" font-style="normal" fill="#444" textLength="30.5" lengthAdjust="spacingAndGlyphs">0.4</text>
<text x="59.5" y="1796.0" font-family="'Liberation Sans', Arial, Helvetica, sans-serif" font-size="25.14" font-weight="normal" font-style="normal" fill="#444" textLength="42.8" lengthAdjust="spacingAndGlyphs">0.45</text>
<text x="71.5" y="1706.0" font-family="'Liberation Sans', Arial, Helvetica, sans-serif" font-size="25.14" font-weight="normal" font-style="normal" fill="#444" textLength="30.8" lengthAdjust="spacingAndGlyphs">0.5</text>
<text x="59.5" y="1616.0" font-family="'Liberation Sans', Arial, Helvetica, sans-serif" font-size="25.14" font-weight="normal" font-style="normal" fill="#444" textLength="42.8" lengthAdjust="spacingAndGlyphs">0.55</text>
<text x="71.5" y="1526.0" font-family="'Liberation Sans', Arial, Helvetica, sans-serif" font-size="25.14" font-weight="normal" font-style="normal" fill="#444" textLength="30.8" lengthAdjust="spacingAndGlyphs">0.6</text>
<text x="59.5" y="1436.0" font-family="'Liberation Sans', Arial, Helvetica, sans-serif" font-size="25.14" font-weight="normal" font-style="normal" fill="#444" textLength="42.8" lengthAdjust="spacingAndGlyphs">0.65</text>
<text x="71.5" y="1346.0" font-family="'Liberation Sans', Arial, Helvetica, sans-serif" font-size="25.14" font-weight="normal" font-style="normal" fill="#444" textLength="31.0" lengthAdjust="spacingAndGlyphs">0.7</text>
<text x="59.5" y="1256.0" font-family="'Liberation Sans', Arial, Helvetica, sans-serif" font-size="25.14" font-weight="normal" font-style="normal" fill="#444" textLength="42.8" lengthAdjust="spacingAndGlyphs">0.75</text>
<text x="103.1" y="1920.6" font-family="'Liberation Sans', Arial, Helvetica, sans-serif" font-size="27.23" font-weight="normal" font-style="normal" fill="#444" textLength="12.4" lengthAdjust="spacingAndGlyphs">0</text>
<text x="115.0" y="1916.0" font-family="'Liberation Sans', Arial, Helvetica, sans-serif" font-size="9.78" font-weight="normal" font-style="normal" fill="#444" textLength="8.5" lengthAdjust="spacingAndGlyphs">×</text>
<text x="126.2" y="1919.0" font-family="'Liberation Sans', Arial, Helvetica, sans-serif" font-size="23.74" font-weight="normal" font-style="normal" fill="#444" textLength="20.2" lengthAdjust="spacingAndGlyphs">10</text>
<text x="149.0" y="1906.5" font-family="'Liberation Sans', Arial, Helvetica, sans-serif" font-size="19.55" font-weight="normal" font-style="normal" fill="#444" textLength="10.0" lengthAdjust="spacingAndGlyphs">-6</text>
<text x="183.8" y="1920.6" font-family="'Liberation Sans', Arial, Helvetica, sans-serif" font-size="27.93" font-weight="normal" font-style="normal" fill="#444" textLength="30.4" lengthAdjust="spacingAndGlyphs">0.1</text>
<text x="269.7" y="1920.6" font-family="'Liberation Sans', Arial, Helvetica, sans-serif" font-size="27.93" font-weight="normal" font-style="normal" fill="#444" textLength="30.5" lengthAdjust="spacingAndGlyphs">0.2</text>
<text x="355.6" y="1920.6" font-family="'Liberation Sans', Arial, Helvetica, sans-serif" font-size="27.93" font-weight="normal" font-style="normal" fill="#444" textLength="30.3" lengthAdjust="spacingAndGlyphs">0.3</text>
<text x="441.5" y="1920.6" font-family="'Liberation Sans', Arial, Helvetica, sans-serif" font-size="27.93" font-weight="normal" font-style="normal" fill="#444" textLength="30.0" lengthAdjust="spacingAndGlyphs">0.4</text>
<text x="527.4" y="1920.6" font-family="'Liberation Sans', Arial, Helvetica, sans-serif" font-size="27.93" font-weight="normal" font-style="normal" fill="#444" textLength="30.3" lengthAdjust="spacingAndGlyphs">0.5</text>
<text x="613.3" y="1920.6" font-family="'Liberation Sans', Arial, Helvetica, sans-serif" font-size="27.93" font-weight="normal" font-style="normal" fill="#444" textLength="30.3" lengthAdjust="spacingAndGlyphs">0.6</text>
<text x="699.2" y="1920.6" font-family="'Liberation Sans', Arial, Helvetica, sans-serif" font-size="27.93" font-weight="normal" font-style="normal" fill="#444" textLength="30.5" lengthAdjust="spacingAndGlyphs">0.7</text>
<text x="785.1" y="1920.6" font-family="'Liberation Sans', Arial, Helvetica, sans-serif" font-size="27.93" font-weight="normal" font-style="normal" fill="#444" textLength="30.3" lengthAdjust="spacingAndGlyphs">0.8</text>
<text x="871.0" y="1920.6" font-family="'Liberation Sans', Arial, Helvetica, sans-serif" font-size="27.93" font-weight="normal" font-style="normal" fill="#444" textLength="30.4" lengthAdjust="spacingAndGlyphs">0.9</text>
<text x="966.6" y="1920.6" font-family="'Liberation Sans', Arial, Helvetica, sans-serif" font-size="27.93" font-weight="normal" font-style="normal" fill="#444" textLength="10.3" lengthAdjust="spacingAndGlyphs">1</text>
<text transform="translate(45.6,1742.0) rotate(-90)" x="-1.7" y="0" font-family="'Liberation Sans', Arial, Helvetica, sans-serif" font-size="29.33" font-weight="bold" fill="#1a1a1a" textLength="365.2" lengthAdjust="spacingAndGlyphs">Output and Target</text>
<polyline points="113.0,1877.0 117.0,1874.4 121.0,1871.8 125.0,1869.2 129.0,1866.6 133.0,1864.0 137.0,1861.3 141.0,1858.7 145.0,1856.1 149.0,1853.5 153.0,1850.9 157.0,1848.3 161.0,1845.7 165.0,1843.1 169.0,1840.5 173.0,1837.9 177.0,1835.3 181.0,1832.7 185.0,1830.1 189.0,1827.5 193.0,1824.9 197.0,1822.3 201.0,1819.7 205.0,1817.1 209.0,1814.5 213.0,1811.9 217.0,1809.3 221.0,1806.7 225.0,1804.1 229.0,1801.5 233.0,1799.0 237.0,1796.4 241.0,1793.8 245.0,1791.2 249.0,1788.6 253.0,1786.0 257.0,1783.4 261.0,1780.8 265.0,1778.2 269.0,1775.7 273.0,1773.1 277.0,1770.5 281.0,1767.9 285.0,1765.3 289.0,1762.7 293.0,1760.2 297.0,1757.6 301.0,1755.0 305.0,1752.4 309.0,1749.8 313.0,1747.3 317.0,1744.7 321.0,1742.1 325.0,1739.5 329.0,1737.0 333.0,1734.4 337.0,1731.8 341.0,1729.3 345.0,1726.7 349.0,1724.1 353.0,1721.6 357.0,1719.0 361.0,1716.4 365.0,1713.9 369.0,1711.3 373.0,1708.7 377.0,1706.2 381.0,1703.6 385.0,1701.0 389.0,1698.5 393.0,1695.9 397.0,1693.3 401.0,1690.8 405.0,1688.2 409.0,1685.7 413.0,1683.1 417.0,1680.5 421.0,1678.0 425.0,1675.4 429.0,1672.9 433.0,1670.3 437.0,1667.7 441.0,1665.2 445.0,1662.6 449.0,1660.0 453.0,1657.5 457.0,1654.9 461.0,1652.3 465.0,1649.8 469.0,1647.2 473.0,1644.6 477.0,1642.1 481.0,1639.5 485.0,1636.9 489.0,1634.4 493.0,1631.8 497.0,1629.3 501.0,1626.7 505.0,1624.1 509.0,1621.6 513.0,1619.0 517.0,1616.4 521.0,1613.9 525.0,1611.3 529.0,1608.8 533.0,1606.2 537.0,1603.6 541.0,1601.1 545.0,1598.5 549.0,1595.9 553.0,1593.4 557.0,1590.8 561.0,1588.2 565.0,1585.7 569.0,1583.1 573.0,1580.5 577.0,1578.0 581.0,1575.4 585.0,1572.8 589.0,1570.2 593.0,1567.7 597.0,1565.1 601.0,1562.5 605.0,1559.9 609.0,1557.3 613.0,1554.8 617.0,1552.2 621.0,1549.6 625.0,1547.0 629.0,1544.4 633.0,1541.8 637.0,1539.1 641.0,1536.5 645.0,1533.9 649.0,1531.3 653.0,1528.7 657.0,1526.0 661.0,1523.4 665.0,1520.8 669.0,1518.2 673.0,1515.5 677.0,1512.9 681.0,1510.3 685.0,1507.6 689.0,1505.0 693.0,1502.4 697.0,1499.7 701.0,1497.1 705.0,1494.5 709.0,1491.9 713.0,1489.2 717.0,1486.6 721.0,1484.0 725.0,1481.4 729.0,1478.8 733.0,1476.1 737.0,1473.5 741.0,1470.9 745.0,1468.3 749.0,1465.7 753.0,1463.2 757.0,1460.6 761.0,1458.0 765.0,1455.4 769.0,1452.9 773.0,1450.3 777.0,1447.7 781.0,1445.2 785.0,1442.6 789.0,1440.1 793.0,1437.6 797.0,1435.1 801.0,1432.5 805.0,1430.0 809.0,1427.5 813.0,1425.0 817.0,1422.5 821.0,1420.0 825.0,1417.5 829.0,1414.9 833.0,1412.4 837.0,1410.0 841.0,1407.5 845.0,1405.0 849.0,1402.5 853.0,1400.0 857.0,1397.5 861.0,1395.0 865.0,1392.6 869.0,1390.1 873.0,1387.6 877.0,1385.1 881.0,1382.7 885.0,1380.2 889.0,1377.8 893.0,1375.3 897.0,1372.9 901.0,1370.4 905.0,1368.0 909.0,1365.5 913.0,1363.1 917.0,1360.7 921.0,1358.2 925.0,1355.8 929.0,1353.4 933.0,1350.9 937.0,1348.5 941.0,1346.1 945.0,1343.7 949.0,1341.3 953.0,1338.9 957.0,1336.5 961.0,1334.1 965.0,1331.7 969.0,1329.3" fill="none" stroke="#00ff00" stroke-width="9" stroke-linejoin="round" stroke-linecap="butt" />
<path d="M103.3,1878.4h15.0M110.8,1870.9v15.0M111.9,1872.8h15.0M119.4,1865.3v15.0M129.2,1861.5h15.0M136.7,1854.0v15.0M137.8,1855.9h15.0M145.3,1848.4v15.0M181.0,1827.9h15.0M188.5,1820.4v15.0M189.6,1822.3h15.0M197.1,1814.8v15.0M198.2,1816.7h15.0M205.7,1809.2v15.0M206.8,1811.1h15.0M214.3,1803.6v15.0M215.5,1805.5h15.0M223.0,1798.0v15.0M224.1,1799.9h15.0M231.6,1792.4v15.0M232.7,1794.3h15.0M240.2,1786.8v15.0M241.3,1788.7h15.0M248.8,1781.2v15.0M250.0,1783.1h15.0M257.5,1775.6v15.0M258.6,1777.5h15.0M266.1,1770.0v15.0M267.2,1772.0h15.0M274.7,1764.5v15.0M275.9,1766.4h15.0M283.4,1758.9v15.0M293.1,1755.2h15.0M300.6,1747.7v15.0M301.7,1749.7h15.0M309.2,1742.2v15.0M310.4,1744.1h15.0M317.9,1736.6v15.0M319.0,1738.6h15.0M326.5,1731.1v15.0M327.6,1733.0h15.0M335.1,1725.5v15.0M336.3,1727.5h15.0M343.8,1720.0v15.0M344.9,1721.9h15.0M352.4,1714.4v15.0M353.5,1716.4h15.0M361.0,1708.9v15.0M362.1,1710.9h15.0M369.6,1703.4v15.0M370.8,1705.4h15.0M378.3,1697.9v15.0M379.4,1699.8h15.0M386.9,1692.3v15.0M388.0,1694.3h15.0M395.5,1686.8v15.0M396.7,1688.8h15.0M404.2,1681.3v15.0M405.3,1683.2h15.0M412.8,1675.7v15.0M413.9,1677.7h15.0M421.4,1670.2v15.0M422.5,1672.2h15.0M430.0,1664.7v15.0M431.2,1666.7h15.0M438.7,1659.2v15.0M439.8,1661.1h15.0M447.3,1653.6v15.0M448.4,1655.6h15.0M455.9,1648.1v15.0M457.0,1650.1h15.0M464.5,1642.6v15.0M474.3,1639.0h15.0M481.8,1631.5v15.0M482.9,1633.5h15.0M490.4,1626.0v15.0M491.6,1627.9h15.0M499.1,1620.4v15.0M500.2,1622.4h15.0M507.7,1614.9v15.0M508.8,1616.9h15.0M516.3,1609.4v15.0M517.4,1611.4h15.0M524.9,1603.9v15.0M534.7,1600.3h15.0M542.2,1592.8v15.0M543.3,1594.8h15.0M550.8,1587.3v15.0M552.0,1589.2h15.0M559.5,1581.7v15.0M560.6,1583.7h15.0M568.1,1576.2v15.0M577.8,1572.6h15.0M585.3,1565.1v15.0M586.5,1567.0h15.0M594.0,1559.5v15.0M595.1,1561.5h15.0M602.6,1554.0v15.0M612.4,1550.3h15.0M619.9,1542.8v15.0M621.0,1544.7h15.0M628.5,1537.2v15.0M629.6,1539.1h15.0M637.1,1531.6v15.0M646.9,1527.8h15.0M654.4,1520.3v15.0M655.5,1522.1h15.0M663.0,1514.6v15.0M664.1,1516.4h15.0M671.6,1508.9v15.0M672.7,1510.8h15.0M680.2,1503.3v15.0M690.0,1499.4h15.0M697.5,1491.9v15.0M698.6,1493.7h15.0M706.1,1486.2v15.0M724.5,1476.8h15.0M732.0,1469.3v15.0M733.1,1471.2h15.0M740.6,1463.7v15.0M741.8,1465.6h15.0M749.3,1458.1v15.0M750.4,1460.0h15.0M757.9,1452.5v15.0M759.0,1454.4h15.0M766.5,1446.9v15.0M767.7,1448.9h15.0M775.2,1441.4v15.0M776.3,1443.4h15.0M783.8,1435.9v15.0M793.5,1432.5h15.0M801.0,1425.0v15.0M802.2,1427.1h15.0M809.7,1419.6v15.0M810.8,1421.7h15.0M818.3,1414.2v15.0M819.4,1416.2h15.0M826.9,1408.7v15.0M845.3,1400.1h15.0M852.8,1392.6v15.0M853.9,1394.8h15.0M861.4,1387.3v15.0M862.6,1389.4h15.0M870.1,1381.9v15.0M871.2,1384.1h15.0M878.7,1376.6v15.0M879.8,1378.8h15.0M887.3,1371.3v15.0M897.1,1368.2h15.0M904.6,1360.7v15.0M905.7,1363.0h15.0M913.2,1355.5v15.0M923.0,1352.5h15.0M930.5,1345.0v15.0M931.6,1347.3h15.0M939.1,1339.8v15.0M940.2,1342.1h15.0M947.7,1334.6v15.0M957.5,1331.7h15.0M965.0,1324.2v15.0M966.1,1326.5h15.0M973.6,1319.0v15.0" stroke="#00ff00" stroke-width="6" fill="none"/>
<path d="M120.6,1867.2h15.0M128.1,1859.7v15.0M146.4,1850.3h15.0M153.9,1842.8v15.0M155.1,1844.7h15.0M162.6,1837.2v15.0M172.3,1833.5h15.0M179.8,1826.0v15.0M284.5,1760.8h15.0M292.0,1753.3v15.0M569.2,1578.2h15.0M576.7,1570.7v15.0M603.7,1555.9h15.0M611.2,1548.4v15.0M638.2,1533.4h15.0M645.7,1525.9v15.0M681.4,1505.1h15.0M688.9,1497.6v15.0M784.9,1438.0h15.0M792.4,1430.5v15.0" stroke="#0000ff" stroke-width="6" fill="none"/>
<path d="M163.7,1839.1h15.0M171.2,1831.6v15.0M465.7,1644.5h15.0M473.2,1637.0v15.0M526.1,1605.8h15.0M533.6,1598.3v15.0M707.3,1488.1h15.0M714.8,1480.6v15.0M715.9,1482.4h15.0M723.4,1474.9v15.0M828.1,1410.9h15.0M835.6,1403.4v15.0M836.7,1405.5h15.0M844.2,1398.0v15.0M888.4,1373.5h15.0M895.9,1366.0v15.0M914.3,1357.7h15.0M921.8,1350.2v15.0M948.8,1336.9h15.0M956.3,1329.4v15.0" stroke="#ff0000" stroke-width="6" fill="none"/>
<rect x="126.7" y="1264.2" width="296.6" height="395.0" fill="#fff" stroke="#3a3a3a" stroke-width="2.4" />
<text x="202.6" y="1306.2" font-family="'Liberation Sans', Arial, Helvetica, sans-serif" font-size="36.87" font-weight="normal" font-style="normal" fill="#1a1a1a" textLength="191.4" lengthAdjust="spacingAndGlyphs">Training Targets</text>
<text x="202.6" y="1356.6" font-family="'Liberation Sans', Arial, Helvetica, sans-serif" font-size="36.87" font-weight="normal" font-style="normal" fill="#1a1a1a" textLength="194.7" lengthAdjust="spacingAndGlyphs">Training Outputs</text>
<text x="203.1" y="1402.9" font-family="'Liberation Sans', Arial, Helvetica, sans-serif" font-size="36.87" font-weight="normal" font-style="normal" fill="#1a1a1a" textLength="212.9" lengthAdjust="spacingAndGlyphs">Validation Targets</text>
<text x="203.1" y="1453.3" font-family="'Liberation Sans', Arial, Helvetica, sans-serif" font-size="36.87" font-weight="normal" font-style="normal" fill="#1a1a1a" textLength="216.2" lengthAdjust="spacingAndGlyphs">Validation Outputs</text>
<text x="202.6" y="1501.2" font-family="'Liberation Sans', Arial, Helvetica, sans-serif" font-size="36.87" font-weight="normal" font-style="normal" fill="#1a1a1a" textLength="148.6" lengthAdjust="spacingAndGlyphs">Test Targets</text>
<text x="202.6" y="1551.6" font-family="'Liberation Sans', Arial, Helvetica, sans-serif" font-size="36.87" font-weight="normal" font-style="normal" fill="#1a1a1a" textLength="152.0" lengthAdjust="spacingAndGlyphs">Test Outputs</text>
<text x="201.0" y="1598.7" font-family="'Liberation Sans', Arial, Helvetica, sans-serif" font-size="36.87" font-weight="normal" font-style="normal" fill="#1a1a1a" textLength="74.6" lengthAdjust="spacingAndGlyphs">Errors</text>
<text x="200.9" y="1649.0" font-family="'Liberation Sans', Arial, Helvetica, sans-serif" font-size="36.87" font-weight="normal" font-style="normal" fill="#1a1a1a" textLength="31.0" lengthAdjust="spacingAndGlyphs">Fit</text>
<rect x="162.5" y="1289" width="5" height="5" fill="#3030ff"/>
<path d="M157.8,1339h15M165.3,1330.5v17" stroke="#00ff00" stroke-width="6"/>
<rect x="162.5" y="1386.5" width="5" height="5" fill="#20cc20"/>
<path d="M157.8,1436.5h15M165.3,1428v17" stroke="#0000ff" stroke-width="6"/>
<rect x="162.5" y="1483.5" width="5" height="5" fill="#ff3030"/>
<path d="M157.8,1534.8h15M165.3,1526.3v17" stroke="#ff0000" stroke-width="6"/>
<line x1="132.6" y1="1584.4" x2="199.0" y2="1584.4" stroke="#ffa31a" stroke-width="5" />
<line x1="132.6" y1="1631.4" x2="199.0" y2="1631.4" stroke="#222" stroke-width="2.6" />
<path d="M110.8,2050.8V2080.3M119.4,2050.8V2068.8M128.1,2050.8V2116.3M136.7,2050.8V2100.9M145.3,2050.8V2064.9M153.9,2050.8V2051.8M162.6,2050.8V2070.1M171.2,2050.8V2095.1M179.8,2050.8V2108.6M188.5,2050.8V2103.8M197.1,2050.8V2090.3M205.7,2050.8V2081.6M214.3,2050.8V2087.4M223.0,2050.8V2102.3M231.6,2050.8V2115.3M240.2,2050.8V2118.2M248.8,2050.8V2110.5M257.5,2050.8V2100.9M266.1,2050.8V2098.0M274.7,2050.8V2107.6M283.4,2050.8V2124.0M292.0,2050.8V2137.5M300.6,2050.8V2141.3M309.2,2050.8V2134.6M317.9,2050.8V2125.0M326.5,2050.8V2118.2M335.1,2050.8V2124.0M343.8,2050.8V2134.6M352.4,2050.8V2145.2M361.0,2050.8V2147.1M369.6,2050.8V2143.2M378.3,2050.8V2134.6M386.9,2050.8V2128.8M395.5,2050.8V2129.8M404.2,2050.8V2138.4M412.8,2050.8V2146.1M421.4,2050.8V2151.0M430.0,2050.8V2146.1M438.7,2050.8V2135.5M447.3,2050.8V2121.1M455.9,2050.8V2110.5M464.5,2050.8V2108.6M473.2,2050.8V2112.4M481.8,2050.8V2119.2M490.4,2050.8V2123.0M499.1,2050.8V2116.3M507.7,2050.8V2102.8M516.3,2050.8V2085.0M524.9,2050.8V2069.1M533.6,2050.8V2062.7M542.2,2050.8V2063.0M550.8,2050.8V2067.8M559.5,2050.8V2067.8M568.1,2050.8V2060.1M576.7,2050.8V2046.0M585.3,2050.8V2030.6M594.0,2050.8V2019.0M602.6,2050.8V2013.7M611.2,2050.8V2013.7M619.9,2050.8V2013.7M628.5,2050.8V2011.3M637.1,2050.8V2002.7M645.7,2050.8V1990.1M654.4,2050.8V1975.7M663.0,2050.8V1965.6M671.6,2050.8V1962.2M680.2,2050.8V1965.1M688.9,2050.8V1970.4M697.5,2050.8V1973.8M706.1,2050.8V1970.4M714.8,2050.8V1961.2M723.4,2050.8V1946.3M732.0,2050.8V1933.8M740.6,2050.8V1928.5M749.3,2050.8V1933.3M757.9,2050.8V1944.9M766.5,2050.8V1949.7M775.2,2050.8V1944.9M783.8,2050.8V1933.3M792.4,2050.8V1923.7M801.0,2050.8V1923.7M809.7,2050.8V1933.3M818.3,2050.8V1944.9M826.9,2050.8V1949.7M835.6,2050.8V1954.5M844.2,2050.8V1956.4M852.8,2050.8V1959.3M861.4,2050.8V1964.1M870.1,2050.8V1964.1M878.7,2050.8V1968.9M887.3,2050.8V1987.2M895.9,2050.8V1985.3M904.6,2050.8V1973.8M913.2,2050.8V1973.8M921.8,2050.8V1982.4M930.5,2050.8V2000.7M939.1,2050.8V2001.7M947.7,2050.8V1982.4M956.3,2050.8V1972.8M965.0,2050.8V2013.7M973.6,2050.8V2003.6" stroke="#fde3c0" stroke-width="8" fill="none"/>
<path d="M110.8,2050.8V2080.3M119.4,2050.8V2068.8M128.1,2050.8V2116.3M136.7,2050.8V2100.9M145.3,2050.8V2064.9M153.9,2050.8V2051.8M162.6,2050.8V2070.1M171.2,2050.8V2095.1M179.8,2050.8V2108.6M188.5,2050.8V2103.8M197.1,2050.8V2090.3M205.7,2050.8V2081.6M214.3,2050.8V2087.4M223.0,2050.8V2102.3M231.6,2050.8V2115.3M240.2,2050.8V2118.2M248.8,2050.8V2110.5M257.5,2050.8V2100.9M266.1,2050.8V2098.0M274.7,2050.8V2107.6M283.4,2050.8V2124.0M292.0,2050.8V2137.5M300.6,2050.8V2141.3M309.2,2050.8V2134.6M317.9,2050.8V2125.0M326.5,2050.8V2118.2M335.1,2050.8V2124.0M343.8,2050.8V2134.6M352.4,2050.8V2145.2M361.0,2050.8V2147.1M369.6,2050.8V2143.2M378.3,2050.8V2134.6M386.9,2050.8V2128.8M395.5,2050.8V2129.8M404.2,2050.8V2138.4M412.8,2050.8V2146.1M421.4,2050.8V2151.0M430.0,2050.8V2146.1M438.7,2050.8V2135.5M447.3,2050.8V2121.1M455.9,2050.8V2110.5M464.5,2050.8V2108.6M473.2,2050.8V2112.4M481.8,2050.8V2119.2M490.4,2050.8V2123.0M499.1,2050.8V2116.3M507.7,2050.8V2102.8M516.3,2050.8V2085.0M524.9,2050.8V2069.1M533.6,2050.8V2062.7M542.2,2050.8V2063.0M550.8,2050.8V2067.8M559.5,2050.8V2067.8M568.1,2050.8V2060.1M576.7,2050.8V2046.0M585.3,2050.8V2030.6M594.0,2050.8V2019.0M602.6,2050.8V2013.7M611.2,2050.8V2013.7M619.9,2050.8V2013.7M628.5,2050.8V2011.3M637.1,2050.8V2002.7M645.7,2050.8V1990.1M654.4,2050.8V1975.7M663.0,2050.8V1965.6M671.6,2050.8V1962.2M680.2,2050.8V1965.1M688.9,2050.8V1970.4M697.5,2050.8V1973.8M706.1,2050.8V1970.4M714.8,2050.8V1961.2M723.4,2050.8V1946.3M732.0,2050.8V1933.8M740.6,2050.8V1928.5M749.3,2050.8V1933.3M757.9,2050.8V1944.9M766.5,2050.8V1949.7M775.2,2050.8V1944.9M783.8,2050.8V1933.3M792.4,2050.8V1923.7M801.0,2050.8V1923.7M809.7,2050.8V1933.3M818.3,2050.8V1944.9M826.9,2050.8V1949.7M835.6,2050.8V1954.5M844.2,2050.8V1956.4M852.8,2050.8V1959.3M861.4,2050.8V1964.1M870.1,2050.8V1964.1M878.7,2050.8V1968.9M887.3,2050.8V1987.2M895.9,2050.8V1985.3M904.6,2050.8V1973.8M913.2,2050.8V1973.8M921.8,2050.8V1982.4M930.5,2050.8V2000.7M939.1,2050.8V2001.7M947.7,2050.8V1982.4M956.3,2050.8V1972.8M965.0,2050.8V2013.7M973.6,2050.8V2003.6" stroke="#f9a11b" stroke-width="4.6" fill="none"/>
<line x1="113.0" y1="2050.8" x2="972.0" y2="2050.8" stroke="#808080" stroke-width="2.6" opacity="0.85"/>
<rect x="108.3" y="2077.8" width="5" height="5" fill="#1010ff"/>
<rect x="116.9" y="2066.3" width="5" height="5" fill="#1010ff"/>
<rect x="125.6" y="2113.8" width="5" height="5" fill="#22cc22"/>
<rect x="134.2" y="2098.4" width="5" height="5" fill="#1010ff"/>
<rect x="142.8" y="2062.4" width="5" height="5" fill="#1010ff"/>
<rect x="151.4" y="2049.3" width="5" height="5" fill="#22cc22"/>
<rect x="160.1" y="2067.6" width="5" height="5" fill="#22cc22"/>
<rect x="168.7" y="2092.6" width="5" height="5" fill="#ff2020"/>
<rect x="177.3" y="2106.1" width="5" height="5" fill="#22cc22"/>
<rect x="186.0" y="2101.3" width="5" height="5" fill="#1010ff"/>
<rect x="194.6" y="2087.8" width="5" height="5" fill="#1010ff"/>
<rect x="203.2" y="2079.1" width="5" height="5" fill="#1010ff"/>
<rect x="211.8" y="2084.9" width="5" height="5" fill="#1010ff"/>
<rect x="220.5" y="2099.8" width="5" height="5" fill="#1010ff"/>
<rect x="229.1" y="2112.8" width="5" height="5" fill="#1010ff"/>
<rect x="237.7" y="2115.7" width="5" height="5" fill="#1010ff"/>
<rect x="246.3" y="2108.0" width="5" height="5" fill="#1010ff"/>
<rect x="255.0" y="2098.4" width="5" height="5" fill="#1010ff"/>
<rect x="263.6" y="2095.5" width="5" height="5" fill="#1010ff"/>
<rect x="272.2" y="2105.1" width="5" height="5" fill="#1010ff"/>
<rect x="280.9" y="2121.5" width="5" height="5" fill="#1010ff"/>
<rect x="289.5" y="2135.0" width="5" height="5" fill="#22cc22"/>
<rect x="298.1" y="2138.8" width="5" height="5" fill="#1010ff"/>
<rect x="306.7" y="2132.1" width="5" height="5" fill="#1010ff"/>
<rect x="315.4" y="2122.5" width="5" height="5" fill="#1010ff"/>
<rect x="324.0" y="2115.7" width="5" height="5" fill="#1010ff"/>
<rect x="332.6" y="2121.5" width="5" height="5" fill="#1010ff"/>
<rect x="341.3" y="2132.1" width="5" height="5" fill="#1010ff"/>
<rect x="349.9" y="2142.7" width="5" height="5" fill="#1010ff"/>
<rect x="358.5" y="2144.6" width="5" height="5" fill="#1010ff"/>
<rect x="367.1" y="2140.7" width="5" height="5" fill="#1010ff"/>
<rect x="375.8" y="2132.1" width="5" height="5" fill="#1010ff"/>
<rect x="384.4" y="2126.3" width="5" height="5" fill="#1010ff"/>
<rect x="393.0" y="2127.3" width="5" height="5" fill="#1010ff"/>
<rect x="401.7" y="2135.9" width="5" height="5" fill="#1010ff"/>
<rect x="410.3" y="2143.6" width="5" height="5" fill="#1010ff"/>
<rect x="418.9" y="2148.5" width="5" height="5" fill="#1010ff"/>
<rect x="427.5" y="2143.6" width="5" height="5" fill="#1010ff"/>
<rect x="436.2" y="2133.0" width="5" height="5" fill="#1010ff"/>
<rect x="444.8" y="2118.6" width="5" height="5" fill="#1010ff"/>
<rect x="453.4" y="2108.0" width="5" height="5" fill="#1010ff"/>
<rect x="462.0" y="2106.1" width="5" height="5" fill="#1010ff"/>
<rect x="470.7" y="2109.9" width="5" height="5" fill="#ff2020"/>
<rect x="479.3" y="2116.7" width="5" height="5" fill="#1010ff"/>
<rect x="487.9" y="2120.5" width="5" height="5" fill="#1010ff"/>
<rect x="496.6" y="2113.8" width="5" height="5" fill="#1010ff"/>
<rect x="505.2" y="2100.3" width="5" height="5" fill="#1010ff"/>
<rect x="513.8" y="2082.5" width="5" height="5" fill="#1010ff"/>
<rect x="522.4" y="2066.6" width="5" height="5" fill="#1010ff"/>
<rect x="531.1" y="2060.2" width="5" height="5" fill="#ff2020"/>
<rect x="539.7" y="2060.5" width="5" height="5" fill="#1010ff"/>
<rect x="548.3" y="2065.3" width="5" height="5" fill="#1010ff"/>
<rect x="557.0" y="2065.3" width="5" height="5" fill="#1010ff"/>
<rect x="565.6" y="2057.6" width="5" height="5" fill="#1010ff"/>
<rect x="574.2" y="2043.5" width="5" height="5" fill="#22cc22"/>
<rect x="582.8" y="2028.1" width="5" height="5" fill="#1010ff"/>
<rect x="591.5" y="2016.5" width="5" height="5" fill="#1010ff"/>
<rect x="600.1" y="2011.2" width="5" height="5" fill="#1010ff"/>
<rect x="608.7" y="2011.2" width="5" height="5" fill="#22cc22"/>
<rect x="617.4" y="2011.2" width="5" height="5" fill="#1010ff"/>
<rect x="626.0" y="2008.8" width="5" height="5" fill="#1010ff"/>
<rect x="634.6" y="2000.2" width="5" height="5" fill="#1010ff"/>
<rect x="643.2" y="1987.6" width="5" height="5" fill="#22cc22"/>
<rect x="651.9" y="1973.2" width="5" height="5" fill="#1010ff"/>
<rect x="660.5" y="1963.1" width="5" height="5" fill="#1010ff"/>
<rect x="669.1" y="1959.7" width="5" height="5" fill="#1010ff"/>
<rect x="677.7" y="1962.6" width="5" height="5" fill="#1010ff"/>
<rect x="686.4" y="1967.9" width="5" height="5" fill="#22cc22"/>
<rect x="695.0" y="1971.3" width="5" height="5" fill="#1010ff"/>
<rect x="703.6" y="1967.9" width="5" height="5" fill="#1010ff"/>
<rect x="712.3" y="1958.7" width="5" height="5" fill="#ff2020"/>
<rect x="720.9" y="1943.8" width="5" height="5" fill="#ff2020"/>
<rect x="729.5" y="1931.3" width="5" height="5" fill="#1010ff"/>
<rect x="738.1" y="1926.0" width="5" height="5" fill="#1010ff"/>
<rect x="746.8" y="1930.8" width="5" height="5" fill="#1010ff"/>
<rect x="755.4" y="1942.4" width="5" height="5" fill="#1010ff"/>
<rect x="764.0" y="1947.2" width="5" height="5" fill="#1010ff"/>
<rect x="772.7" y="1942.4" width="5" height="5" fill="#1010ff"/>
<rect x="781.3" y="1930.8" width="5" height="5" fill="#1010ff"/>
<rect x="789.9" y="1921.2" width="5" height="5" fill="#22cc22"/>
<rect x="798.5" y="1921.2" width="5" height="5" fill="#1010ff"/>
<rect x="807.2" y="1930.8" width="5" height="5" fill="#1010ff"/>
<rect x="815.8" y="1942.4" width="5" height="5" fill="#1010ff"/>
<rect x="824.4" y="1947.2" width="5" height="5" fill="#1010ff"/>
<rect x="833.1" y="1952.0" width="5" height="5" fill="#ff2020"/>
<rect x="841.7" y="1953.9" width="5" height="5" fill="#ff2020"/>
<rect x="850.3" y="1956.8" width="5" height="5" fill="#1010ff"/>
<rect x="858.9" y="1961.6" width="5" height="5" fill="#1010ff"/>
<rect x="867.6" y="1961.6" width="5" height="5" fill="#1010ff"/>
<rect x="876.2" y="1966.4" width="5" height="5" fill="#1010ff"/>
<rect x="884.8" y="1984.7" width="5" height="5" fill="#1010ff"/>
<rect x="893.4" y="1982.8" width="5" height="5" fill="#ff2020"/>
<rect x="902.1" y="1971.3" width="5" height="5" fill="#1010ff"/>
<rect x="910.7" y="1971.3" width="5" height="5" fill="#1010ff"/>
<rect x="919.3" y="1979.9" width="5" height="5" fill="#ff2020"/>
<rect x="928.0" y="1998.2" width="5" height="5" fill="#1010ff"/>
<rect x="936.6" y="1999.2" width="5" height="5" fill="#1010ff"/>
<rect x="945.2" y="1979.9" width="5" height="5" fill="#1010ff"/>
<rect x="953.8" y="1970.3" width="5" height="5" fill="#ff2020"/>
<rect x="962.5" y="2011.2" width="5" height="5" fill="#1010ff"/>
<rect x="971.1" y="2001.1" width="5" height="5" fill="#1010ff"/>
<line x1="113.0" y1="1925.0" x2="113.0" y2="2149.7" stroke="#3a3a3a" stroke-width="2.4" />
<line x1="112.0" y1="1925.0" x2="973.0" y2="1925.0" stroke="#222" stroke-width="2.6" />
<line x1="112.0" y1="2149.7" x2="973.0" y2="2149.7" stroke="#222" stroke-width="2.6" />
<line x1="972.0" y1="1925.0" x2="972.0" y2="2149.7" stroke="#3a3a3a" stroke-width="2.4" />
<line x1="198.9" y1="2149.7" x2="198.9" y2="2140.7" stroke="#444" stroke-width="2" />
<line x1="198.9" y1="1925.0" x2="198.9" y2="1934.0" stroke="#444" stroke-width="2" />
<line x1="284.8" y1="2149.7" x2="284.8" y2="2140.7" stroke="#444" stroke-width="2" />
<line x1="284.8" y1="1925.0" x2="284.8" y2="1934.0" stroke="#444" stroke-width="2" />
<line x1="370.7" y1="2149.7" x2="370.7" y2="2140.7" stroke="#444" stroke-width="2" />
<line x1="370.7" y1="1925.0" x2="370.7" y2="1934.0" stroke="#444" stroke-width="2" />
<line x1="456.6" y1="2149.7" x2="456.6" y2="2140.7" stroke="#444" stroke-width="2" />
<line x1="456.6" y1="1925.0" x2="456.6" y2="1934.0" stroke="#444" stroke-width="2" />
<line x1="542.5" y1="2149.7" x2="542.5" y2="2140.7" stroke="#444" stroke-width="2" />
<line x1="542.5" y1="1925.0" x2="542.5" y2="1934.0" stroke="#444" stroke-width="2" />
<line x1="628.4" y1="2149.7" x2="628.4" y2="2140.7" stroke="#444" stroke-width="2" />
<line x1="628.4" y1="1925.0" x2="628.4" y2="1934.0" stroke="#444" stroke-width="2" />
<line x1="714.3" y1="2149.7" x2="714.3" y2="2140.7" stroke="#444" stroke-width="2" />
<line x1="714.3" y1="1925.0" x2="714.3" y2="1934.0" stroke="#444" stroke-width="2" />
<line x1="800.2" y1="2149.7" x2="800.2" y2="2140.7" stroke="#444" stroke-width="2" />
<line x1="800.2" y1="1925.0" x2="800.2" y2="1934.0" stroke="#444" stroke-width="2" />
<line x1="886.1" y1="2149.7" x2="886.1" y2="2140.7" stroke="#444" stroke-width="2" />
<line x1="886.1" y1="1925.0" x2="886.1" y2="1934.0" stroke="#444" stroke-width="2" />
<line x1="113.0" y1="1954.5" x2="120.0" y2="1954.5" stroke="#222" stroke-width="2.4" />
<line x1="972.0" y1="1954.5" x2="965.0" y2="1954.5" stroke="#222" stroke-width="2.4" />
<line x1="113.0" y1="2147.1" x2="120.0" y2="2147.1" stroke="#222" stroke-width="2.4" />
<line x1="972.0" y1="2147.1" x2="965.0" y2="2147.1" stroke="#222" stroke-width="2.4" />
<text x="97.9" y="1962.0" font-family="'Liberation Sans', Arial, Helvetica, sans-serif" font-size="19.55" font-weight="normal" font-style="normal" fill="#555" textLength="7.7" lengthAdjust="spacingAndGlyphs">1</text>
<text x="98.5" y="2058.0" font-family="'Liberation Sans', Arial, Helvetica, sans-serif" font-size="19.55" font-weight="normal" font-style="normal" fill="#555" textLength="7.6" lengthAdjust="spacingAndGlyphs">0</text>
<text x="91.3" y="2157.0" font-family="'Liberation Sans', Arial, Helvetica, sans-serif" font-size="19.55" font-weight="normal" font-style="normal" fill="#555" textLength="14.5" lengthAdjust="spacingAndGlyphs">-1</text>
<rect x="736.0" y="1939.0" width="218.0" height="37.5" fill="#fff" stroke="#333" stroke-width="2.4" />
<rect x="771.5" y="1955.5" width="4.5" height="4.5" fill="#1010ff"/>
<text x="810.6" y="1967.5" font-family="'Liberation Sans', Arial, Helvetica, sans-serif" font-size="25.84" font-weight="normal" font-style="normal" fill="#454545" textLength="139.1" lengthAdjust="spacingAndGlyphs">Targets - Outputs</text>
<text transform="translate(82.0,2086.0) rotate(-90)" x="-2.8" y="0" font-family="'Liberation Sans', Arial, Helvetica, sans-serif" font-size="27.93" font-weight="bold" fill="#1a1a1a" textLength="102.4" lengthAdjust="spacingAndGlyphs">Error</text>
<text x="502.9" y="2197.0" font-family="'Liberation Sans', Arial, Helvetica, sans-serif" font-size="37.71" font-weight="bold" font-style="normal" fill="#222" textLength="75.5" lengthAdjust="spacingAndGlyphs">Input</text>
<text x="266.2" y="2284.2" font-family="'Liberation Serif', 'Times New Roman', serif" font-size="38.22" font-weight="normal" font-style="normal" fill="#000" textLength="42.0" lengthAdjust="spacingAndGlyphs">(c)</text>
<text x="329.2" y="2284.2" font-family="'Liberation Serif', 'Times New Roman', serif" font-size="38.22" font-weight="normal" font-style="italic" fill="#000" textLength="371.0" lengthAdjust="spacingAndGlyphs">Results performances</text>
<text x="1293.1" y="1272.0" font-family="'Liberation Sans', Arial, Helvetica, sans-serif" font-size="34.92" font-weight="bold" font-style="normal" fill="#000" textLength="398.1" lengthAdjust="spacingAndGlyphs">Error Histogram with 20 Bins</text>
<line x1="1090.0" y1="1291.0" x2="1090.0" y2="2015.3" stroke="#555" stroke-width="2.4" />
<line x1="1090.0" y1="1939.3" x2="1097.0" y2="1939.3" stroke="#444" stroke-width="2" />
<text x="1058.0" y="1951.3" font-family="'Liberation Sans', Arial, Helvetica, sans-serif" font-size="26.54" font-weight="normal" font-style="normal" fill="#555" textLength="22.5" lengthAdjust="spacingAndGlyphs">10</text>
<line x1="1090.0" y1="1864.3" x2="1097.0" y2="1864.3" stroke="#444" stroke-width="2" />
<text x="1058.5" y="1876.3" font-family="'Liberation Sans', Arial, Helvetica, sans-serif" font-size="26.54" font-weight="normal" font-style="normal" fill="#555" textLength="22.0" lengthAdjust="spacingAndGlyphs">20</text>
<line x1="1090.0" y1="1789.3" x2="1097.0" y2="1789.3" stroke="#444" stroke-width="2" />
<text x="1058.8" y="1801.3" font-family="'Liberation Sans', Arial, Helvetica, sans-serif" font-size="26.54" font-weight="normal" font-style="normal" fill="#555" textLength="21.7" lengthAdjust="spacingAndGlyphs">30</text>
<line x1="1090.0" y1="1714.3" x2="1097.0" y2="1714.3" stroke="#444" stroke-width="2" />
<text x="1059.1" y="1726.3" font-family="'Liberation Sans', Arial, Helvetica, sans-serif" font-size="26.54" font-weight="normal" font-style="normal" fill="#555" textLength="21.4" lengthAdjust="spacingAndGlyphs">40</text>
<line x1="1090.0" y1="1639.3" x2="1097.0" y2="1639.3" stroke="#444" stroke-width="2" />
<text x="1058.7" y="1651.3" font-family="'Liberation Sans', Arial, Helvetica, sans-serif" font-size="26.54" font-weight="normal" font-style="normal" fill="#555" textLength="21.8" lengthAdjust="spacingAndGlyphs">50</text>
<line x1="1090.0" y1="1564.3" x2="1097.0" y2="1564.3" stroke="#444" stroke-width="2" />
<text x="1058.5" y="1576.3" font-family="'Liberation Sans', Arial, Helvetica, sans-serif" font-size="26.54" font-weight="normal" font-style="normal" fill="#555" textLength="22.0" lengthAdjust="spacingAndGlyphs">60</text>
<line x1="1090.0" y1="1489.3" x2="1097.0" y2="1489.3" stroke="#444" stroke-width="2" />
<text x="1058.5" y="1501.3" font-family="'Liberation Sans', Arial, Helvetica, sans-serif" font-size="26.54" font-weight="normal" font-style="normal" fill="#555" textLength="22.0" lengthAdjust="spacingAndGlyphs">70</text>
<line x1="1090.0" y1="1414.3" x2="1097.0" y2="1414.3" stroke="#444" stroke-width="2" />
<text x="1058.7" y="1426.3" font-family="'Liberation Sans', Arial, Helvetica, sans-serif" font-size="26.54" font-weight="normal" font-style="normal" fill="#555" textLength="21.8" lengthAdjust="spacingAndGlyphs">80</text>
<line x1="1090.0" y1="1339.3" x2="1097.0" y2="1339.3" stroke="#444" stroke-width="2" />
<text x="1058.6" y="1351.3" font-family="'Liberation Sans', Arial, Helvetica, sans-serif" font-size="26.54" font-weight="normal" font-style="normal" fill="#555" textLength="21.9" lengthAdjust="spacingAndGlyphs">90</text>
<text x="1068.8" y="2026.8" font-family="'Liberation Sans', Arial, Helvetica, sans-serif" font-size="26.54" font-weight="normal" font-style="normal" fill="#555" textLength="11.8" lengthAdjust="spacingAndGlyphs">0</text>
<text transform="translate(1043.7,1743.8) rotate(-90)" x="-2.7" y="0" font-family="'Liberation Sans', Arial, Helvetica, sans-serif" font-size="29.19" font-weight="bold" fill="#1a1a1a" textLength="188.5" lengthAdjust="spacingAndGlyphs">Instances</text>
<rect x="1092.6" y="1961.8" width="33.3" height="52.5" fill="#ffff00" stroke="#555" stroke-width="2" />
<rect x="1132.9" y="1946.8" width="33.3" height="67.5" fill="#ffff00" stroke="#555" stroke-width="2" />
<rect x="1132.9" y="1939.3" width="33.3" height="7.5" fill="#000" stroke="#333" stroke-width="2" />
<rect x="1173.3" y="1886.8" width="33.3" height="127.5" fill="#ffff00" stroke="#555" stroke-width="2" />
<rect x="1173.3" y="1879.3" width="33.3" height="7.5" fill="#000" stroke="#333" stroke-width="2" />
<rect x="1213.6" y="1909.3" width="33.3" height="105.0" fill="#ffff00" stroke="#555" stroke-width="2" />
<rect x="1213.6" y="1894.3" width="33.3" height="15.0" fill="#000" stroke="#333" stroke-width="2" />
<rect x="1213.6" y="1886.8" width="33.3" height="7.5" fill="#ff0000" stroke="#555" stroke-width="2" />
<rect x="1254.0" y="1894.3" width="33.3" height="120.0" fill="#ffff00" stroke="#555" stroke-width="2" />
<rect x="1254.0" y="1879.3" width="33.3" height="15.0" fill="#000" stroke="#333" stroke-width="2" />
<rect x="1254.0" y="1864.3" width="33.3" height="15.0" fill="#ff0000" stroke="#555" stroke-width="2" />
<rect x="1294.3" y="1924.3" width="33.3" height="90.0" fill="#ffff00" stroke="#555" stroke-width="2" />
<rect x="1294.3" y="1916.8" width="33.3" height="7.5" fill="#000" stroke="#333" stroke-width="2" />
<rect x="1294.3" y="1894.3" width="33.3" height="22.5" fill="#ff0000" stroke="#555" stroke-width="2" />
<rect x="1334.7" y="1759.3" width="33.3" height="255.0" fill="#ffff00" stroke="#555" stroke-width="2" />
<rect x="1334.7" y="1736.8" width="33.3" height="22.5" fill="#000" stroke="#333" stroke-width="2" />
<rect x="1334.7" y="1714.3" width="33.3" height="22.5" fill="#ff0000" stroke="#555" stroke-width="2" />
<rect x="1375.0" y="1654.3" width="33.3" height="360.0" fill="#ffff00" stroke="#555" stroke-width="2" />
<rect x="1375.0" y="1616.8" width="33.3" height="37.5" fill="#000" stroke="#333" stroke-width="2" />
<rect x="1375.0" y="1571.8" width="33.3" height="45.0" fill="#ff0000" stroke="#555" stroke-width="2" />
<rect x="1415.4" y="1534.3" width="33.3" height="480.0" fill="#ffff00" stroke="#555" stroke-width="2" />
<rect x="1415.4" y="1429.3" width="33.3" height="105.0" fill="#000" stroke="#333" stroke-width="2" />
<rect x="1415.4" y="1354.3" width="33.3" height="75.0" fill="#ff0000" stroke="#555" stroke-width="2" />
<rect x="1455.8" y="1579.3" width="33.3" height="435.0" fill="#ffff00" stroke="#555" stroke-width="2" />
<rect x="1455.8" y="1526.8" width="33.3" height="52.5" fill="#000" stroke="#333" stroke-width="2" />
<rect x="1455.8" y="1496.8" width="33.3" height="30.0" fill="#ff0000" stroke="#555" stroke-width="2" />
<rect x="1496.1" y="1706.8" width="33.3" height="307.5" fill="#ffff00" stroke="#555" stroke-width="2" />
<rect x="1496.1" y="1691.8" width="33.3" height="15.0" fill="#000" stroke="#333" stroke-width="2" />
<rect x="1496.1" y="1654.3" width="33.3" height="37.5" fill="#ff0000" stroke="#555" stroke-width="2" />
<rect x="1536.4" y="1834.3" width="33.3" height="180.0" fill="#ffff00" stroke="#555" stroke-width="2" />
<rect x="1536.4" y="1796.8" width="33.3" height="37.5" fill="#000" stroke="#333" stroke-width="2" />
<rect x="1536.4" y="1781.8" width="33.3" height="15.0" fill="#ff0000" stroke="#555" stroke-width="2" />
<rect x="1576.8" y="1954.3" width="33.3" height="60.0" fill="#ffff00" stroke="#555" stroke-width="2" />
<rect x="1576.8" y="1939.3" width="33.3" height="15.0" fill="#000" stroke="#333" stroke-width="2" />
<rect x="1617.2" y="1961.8" width="33.3" height="52.5" fill="#ffff00" stroke="#555" stroke-width="2" />
<rect x="1617.2" y="1959.5" width="33.3" height="2.2" fill="#000" stroke="#333" stroke-width="2" />
<rect x="1617.2" y="1944.5" width="33.3" height="15.0" fill="#ff0000" stroke="#555" stroke-width="2" />
<rect x="1657.5" y="1939.3" width="33.3" height="75.0" fill="#ffff00" stroke="#555" stroke-width="2" />
<rect x="1657.5" y="1924.3" width="33.3" height="15.0" fill="#000" stroke="#333" stroke-width="2" />
<rect x="1657.5" y="1886.8" width="33.3" height="37.5" fill="#ff0000" stroke="#555" stroke-width="2" />
<rect x="1697.8" y="1924.3" width="33.3" height="90.0" fill="#ffff00" stroke="#555" stroke-width="2" />
<rect x="1697.8" y="1916.8" width="33.3" height="7.5" fill="#000" stroke="#333" stroke-width="2" />
<rect x="1697.8" y="1901.8" width="33.3" height="15.0" fill="#ff0000" stroke="#555" stroke-width="2" />
<rect x="1738.2" y="1939.3" width="33.3" height="75.0" fill="#ffff00" stroke="#555" stroke-width="2" />
<rect x="1738.2" y="1937.0" width="33.3" height="2.2" fill="#000" stroke="#333" stroke-width="2" />
<rect x="1738.2" y="1907.0" width="33.3" height="30.0" fill="#ff0000" stroke="#555" stroke-width="2" />
<rect x="1778.5" y="1984.3" width="33.3" height="30.0" fill="#ffff00" stroke="#555" stroke-width="2" />
<rect x="1778.5" y="1976.8" width="33.3" height="7.5" fill="#000" stroke="#333" stroke-width="2" />
<rect x="1818.9" y="1984.3" width="33.3" height="30.0" fill="#ffff00" stroke="#555" stroke-width="2" />
<rect x="1818.9" y="1976.8" width="33.3" height="7.5" fill="#ff0000" stroke="#555" stroke-width="2" />
<rect x="1859.2" y="1969.3" width="33.3" height="45.0" fill="#ffff00" stroke="#555" stroke-width="2" />
<rect x="1859.2" y="1961.8" width="33.3" height="7.5" fill="#000" stroke="#333" stroke-width="2" />
<line x1="1089.0" y1="2014.3" x2="1895.0" y2="2014.3" stroke="#666" stroke-width="3" />
<line x1="1444.7" y1="1290.5" x2="1444.7" y2="2014.3" stroke="#f7a01c" stroke-width="3.5" />
<text transform="translate(1118.2,2128.2) rotate(-90)" x="-1.3" y="0" font-family="'Liberation Sans', Arial, Helvetica, sans-serif" font-size="19.55" font-weight="normal" fill="#1e1e1e" textLength="107.4" lengthAdjust="spacingAndGlyphs">-9.9e-07</text>
<text transform="translate(1158.6,2128.2) rotate(-90)" x="-1.3" y="0" font-family="'Liberation Sans', Arial, Helvetica, sans-serif" font-size="19.55" font-weight="normal" fill="#1e1e1e" textLength="107.4" lengthAdjust="spacingAndGlyphs">-8.7e-07</text>
<text transform="translate(1199.0,2128.2) rotate(-90)" x="-1.3" y="0" font-family="'Liberation Sans', Arial, Helvetica, sans-serif" font-size="19.55" font-weight="normal" fill="#1e1e1e" textLength="107.4" lengthAdjust="spacingAndGlyphs">-7.5e-07</text>
<text transform="translate(1239.3,2128.2) rotate(-90)" x="-1.3" y="0" font-family="'Liberation Sans', Arial, Helvetica, sans-serif" font-size="19.55" font-weight="normal" fill="#1e1e1e" textLength="107.4" lengthAdjust="spacingAndGlyphs">-6.3e-07</text>
<text transform="translate(1279.7,2128.2) rotate(-90)" x="-1.3" y="0" font-family="'Liberation Sans', Arial, Helvetica, sans-serif" font-size="19.55" font-weight="normal" fill="#1e1e1e" textLength="107.4" lengthAdjust="spacingAndGlyphs">-5.1e-07</text>
<text transform="translate(1320.0,2128.2) rotate(-90)" x="-1.3" y="0" font-family="'Liberation Sans', Arial, Helvetica, sans-serif" font-size="19.55" font-weight="normal" fill="#1e1e1e" textLength="107.4" lengthAdjust="spacingAndGlyphs">-3.9e-07</text>
<text transform="translate(1360.3,2128.2) rotate(-90)" x="-1.3" y="0" font-family="'Liberation Sans', Arial, Helvetica, sans-serif" font-size="19.55" font-weight="normal" fill="#1e1e1e" textLength="107.4" lengthAdjust="spacingAndGlyphs">-2.7e-07</text>
<text transform="translate(1400.7,2128.2) rotate(-90)" x="-1.3" y="0" font-family="'Liberation Sans', Arial, Helvetica, sans-serif" font-size="19.55" font-weight="normal" fill="#1e1e1e" textLength="107.4" lengthAdjust="spacingAndGlyphs">-1.6e-07</text>
<text transform="translate(1441.0,2128.2) rotate(-90)" x="-1.3" y="0" font-family="'Liberation Sans', Arial, Helvetica, sans-serif" font-size="19.55" font-weight="normal" fill="#1e1e1e" textLength="107.2" lengthAdjust="spacingAndGlyphs">-3.7e-08</text>
<text transform="translate(1481.4,2134.5) rotate(-90)" x="-1.2" y="0" font-family="'Liberation Sans', Arial, Helvetica, sans-serif" font-size="19.55" font-weight="normal" fill="#1e1e1e" textLength="113.4" lengthAdjust="spacingAndGlyphs">8.13e-08</text>
<text transform="translate(1521.8,2095.4) rotate(-90)" x="-1.5" y="0" font-family="'Liberation Sans', Arial, Helvetica, sans-serif" font-size="19.55" font-weight="normal" fill="#1e1e1e" textLength="74.8" lengthAdjust="spacingAndGlyphs">2e-07</text>
<text transform="translate(1562.1,2134.5) rotate(-90)" x="-1.1" y="0" font-family="'Liberation Sans', Arial, Helvetica, sans-serif" font-size="19.55" font-weight="normal" fill="#1e1e1e" textLength="113.5" lengthAdjust="spacingAndGlyphs">3.18e-07</text>
<text transform="translate(1602.5,2134.5) rotate(-90)" x="-0.7" y="0" font-family="'Liberation Sans', Arial, Helvetica, sans-serif" font-size="19.55" font-weight="normal" fill="#1e1e1e" textLength="113.0" lengthAdjust="spacingAndGlyphs">4.37e-07</text>
<text transform="translate(1642.8,2134.5) rotate(-90)" x="-1.2" y="0" font-family="'Liberation Sans', Arial, Helvetica, sans-serif" font-size="19.55" font-weight="normal" fill="#1e1e1e" textLength="113.5" lengthAdjust="spacingAndGlyphs">5.56e-07</text>
<text transform="translate(1683.2,2134.5) rotate(-90)" x="-1.5" y="0" font-family="'Liberation Sans', Arial, Helvetica, sans-serif" font-size="19.55" font-weight="normal" fill="#1e1e1e" textLength="113.9" lengthAdjust="spacingAndGlyphs">6.74e-07</text>
<text transform="translate(1723.5,2134.5) rotate(-90)" x="-1.5" y="0" font-family="'Liberation Sans', Arial, Helvetica, sans-serif" font-size="19.55" font-weight="normal" fill="#1e1e1e" textLength="113.9" lengthAdjust="spacingAndGlyphs">7.93e-07</text>
<text transform="translate(1763.8,2132.4) rotate(-90)" x="-1.4" y="0" font-family="'Liberation Sans', Arial, Helvetica, sans-serif" font-size="19.55" font-weight="normal" fill="#1e1e1e" textLength="111.7" lengthAdjust="spacingAndGlyphs">9.11e-07</text>
<text transform="translate(1804.2,2134.5) rotate(-90)" x="-2.2" y="0" font-family="'Liberation Sans', Arial, Helvetica, sans-serif" font-size="19.55" font-weight="normal" fill="#1e1e1e" textLength="114.4" lengthAdjust="spacingAndGlyphs">1.03e-06</text>
<text transform="translate(1844.6,2134.5) rotate(-90)" x="-2.2" y="0" font-family="'Liberation Sans', Arial, Helvetica, sans-serif" font-size="19.55" font-weight="normal" fill="#1e1e1e" textLength="114.4" lengthAdjust="spacingAndGlyphs">1.15e-06</text>
<text transform="translate(1884.9,2134.5) rotate(-90)" x="-2.2" y="0" font-family="'Liberation Sans', Arial, Helvetica, sans-serif" font-size="19.55" font-weight="normal" fill="#1e1e1e" textLength="114.4" lengthAdjust="spacingAndGlyphs">1.27e-06</text>
<text x="1314.1" y="2188.2" font-family="'Liberation Sans', Arial, Helvetica, sans-serif" font-size="39.11" font-weight="bold" font-style="normal" fill="#222" textLength="358.1" lengthAdjust="spacingAndGlyphs">Errors = Targets - Outputs</text>
<rect x="1669.0" y="1314.0" width="209.0" height="217.0" fill="#fff" stroke="#444" stroke-width="2.4" />
<rect x="1677.0" y="1323.0" width="60.0" height="42.0" fill="#ffff00" stroke="#555" stroke-width="2.2" />
<rect x="1677.0" y="1375.0" width="60.0" height="41.0" fill="#000" stroke="#333" stroke-width="2.2" />
<rect x="1677.0" y="1428.5" width="60.0" height="42.0" fill="#ff0000" stroke="#444" stroke-width="2.2" />
<line x1="1677.0" y1="1501.7" x2="1737.0" y2="1501.7" stroke="#f7a01c" stroke-width="5.5" />
<text x="1740.4" y="1359.0" font-family="'Liberation Sans', Arial, Helvetica, sans-serif" font-size="40.50" font-weight="normal" font-style="normal" fill="#111" textLength="104.5" lengthAdjust="spacingAndGlyphs">Training</text>
<text x="1740.9" y="1411.0" font-family="'Liberation Sans', Arial, Helvetica, sans-serif" font-size="40.50" font-weight="normal" font-style="normal" fill="#111" textLength="129.1" lengthAdjust="spacingAndGlyphs">Validation</text>
<text x="1740.3" y="1464.0" font-family="'Liberation Sans', Arial, Helvetica, sans-serif" font-size="40.50" font-weight="normal" font-style="normal" fill="#111" textLength="55.9" lengthAdjust="spacingAndGlyphs">Test</text>
<text x="1740.1" y="1517.0" font-family="'Liberation Sans', Arial, Helvetica, sans-serif" font-size="40.50" font-weight="normal" font-style="normal" fill="#111" textLength="132.4" lengthAdjust="spacingAndGlyphs">Zero Error</text>
<text x="1302.7" y="2284.4" font-family="'Liberation Serif', 'Times New Roman', serif" font-size="38.22" font-weight="normal" font-style="normal" fill="#000" textLength="50.7" lengthAdjust="spacingAndGlyphs">(d)</text>
<text x="1371.7" y="2284.4" font-family="'Liberation Serif', 'Times New Roman', serif" font-size="38.22" font-weight="normal" font-style="italic" fill="#000" textLength="320.0" lengthAdjust="spacingAndGlyphs">EHs performances</text>
<line x1="32.5" y1="1186.5" x2="39.5" y2="1186.5" stroke="#999" stroke-width="2" />
</svg>
</body></html>
